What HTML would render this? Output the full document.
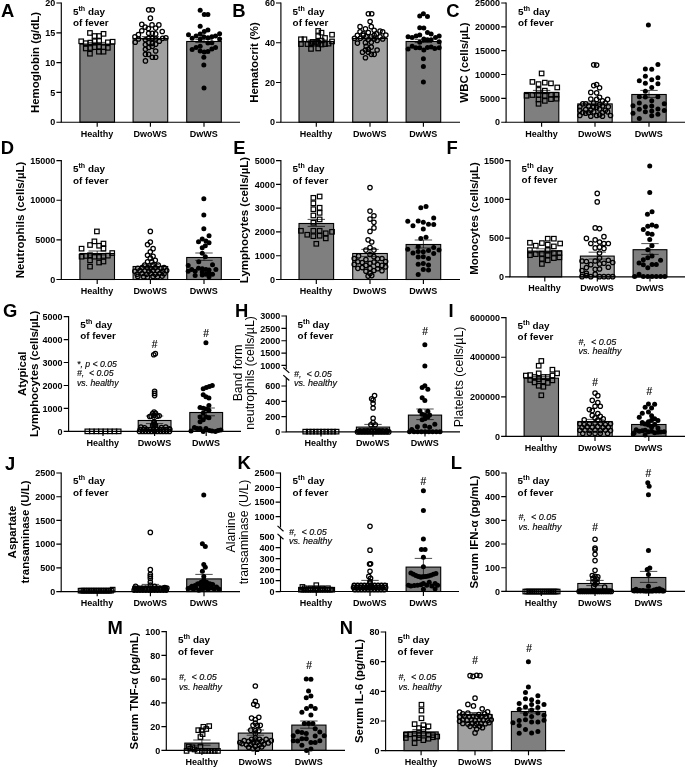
<!DOCTYPE html>
<html lang="en"><head><meta charset="utf-8"><title>Figure</title>
<style>html,body{margin:0;padding:0;background:#fff}svg{display:block}text{font-family:'Liberation Sans', Arial, sans-serif;fill:#000}</style>
</head><body>
<svg width="685" height="767" viewBox="0 0 685 767">
<rect width="685" height="767" fill="#fff"/>
<g id="panel-A">
<rect x="79.9" y="44.1" width="34.6" height="78.1" fill="#7f7f7f" stroke="#000" stroke-width="1.1"/>
<rect x="133.1" y="38.5" width="34.6" height="83.7" fill="#a1a1a1" stroke="#000" stroke-width="1.1"/>
<rect x="186.7" y="41.5" width="34.6" height="80.7" fill="#7f7f7f" stroke="#000" stroke-width="1.1"/>
<path d="M88.5 42.4H105.9M88.5 44.8H105.9M97.2 42.4V44.8" stroke="#000" stroke-width="0.7" fill="none"/>
<path d="M141.7 36.6H159.1M141.7 39.4H159.1M150.4 36.6V39.4" stroke="#000" stroke-width="0.7" fill="none"/>
<path d="M195.3 39.4H212.7M195.3 42.6H212.7M204 39.4V42.6" stroke="#000" stroke-width="0.7" fill="none"/>
<path d="M61.3 2.45V122.2" stroke="#000" stroke-width="1.15" fill="none"/>
<path d="M60.75 122.2H240" stroke="#000" stroke-width="1.15" fill="none"/>
<text x="55.3" y="125.4" font-size="9" text-anchor="end" font-weight="bold" font-style="normal">0</text>
<text x="55.3" y="95.6" font-size="9" text-anchor="end" font-weight="bold" font-style="normal">5</text>
<text x="55.3" y="65.8" font-size="9" text-anchor="end" font-weight="bold" font-style="normal">10</text>
<text x="55.3" y="36" font-size="9" text-anchor="end" font-weight="bold" font-style="normal">15</text>
<text x="55.3" y="6.2" font-size="9" text-anchor="end" font-weight="bold" font-style="normal">20</text>
<path d="M56.4 122.2H61.3M56.4 92.4H61.3M56.4 62.6H61.3M56.4 32.8H61.3M56.4 3H61.3M97.2 122.2V126.8M150.4 122.2V126.8M204 122.2V126.8" stroke="#000" stroke-width="1.15" fill="none"/>
<text x="97" y="136.7" font-size="9" text-anchor="middle" font-weight="bold" font-style="normal">Healthy</text>
<text x="150.2" y="136.7" font-size="9" text-anchor="middle" font-weight="bold" font-style="normal">DwoWS</text>
<text x="203.8" y="136.7" font-size="9" text-anchor="middle" font-weight="bold" font-style="normal">DwWS</text>
<text transform="translate(38.6 62.5) rotate(-90)" font-size="11.45" text-anchor="middle" font-weight="bold">Hemoglobin (g/dL)</text>
<text x="1" y="17" font-size="18.4" text-anchor="start" font-weight="bold" font-style="normal">A</text>
<text x="73" y="15" font-size="9.9" font-weight="bold">5<tspan font-size="7.1" dy="-4.1">th</tspan><tspan dy="4.1"> day</tspan></text>
<text x="73" y="26.1" font-size="9.9" text-anchor="start" font-weight="bold" font-style="normal">of fever</text>
<rect x="87.71" y="30.71" width="4.5" height="4.5" fill="none" stroke="#000" stroke-width="1.2"/>
<rect x="101.29" y="31.59" width="4.5" height="4.5" fill="none" stroke="#000" stroke-width="1.2"/>
<rect x="92.27" y="33.77" width="4.5" height="4.5" fill="none" stroke="#000" stroke-width="1.2"/>
<rect x="96.91" y="33.77" width="4.5" height="4.5" fill="none" stroke="#000" stroke-width="1.2"/>
<rect x="78.96" y="39.03" width="4.5" height="4.5" fill="none" stroke="#000" stroke-width="1.2"/>
<rect x="110.39" y="39.47" width="4.5" height="4.5" fill="none" stroke="#000" stroke-width="1.2"/>
<rect x="92.27" y="39.03" width="4.5" height="4.5" fill="none" stroke="#000" stroke-width="1.2"/>
<rect x="96.91" y="38.77" width="4.5" height="4.5" fill="none" stroke="#000" stroke-width="1.2"/>
<rect x="105.58" y="40.08" width="4.5" height="4.5" fill="none" stroke="#000" stroke-width="1.2"/>
<rect x="88.07" y="40.34" width="4.5" height="4.5" fill="none" stroke="#000" stroke-width="1.2"/>
<rect x="83.51" y="40.95" width="4.5" height="4.5" fill="none" stroke="#000" stroke-width="1.2"/>
<rect x="83.51" y="46.21" width="4.5" height="4.5" fill="none" stroke="#000" stroke-width="1.2"/>
<rect x="88.07" y="45.77" width="4.5" height="4.5" fill="none" stroke="#000" stroke-width="1.2"/>
<rect x="92.27" y="44.9" width="4.5" height="4.5" fill="none" stroke="#000" stroke-width="1.2"/>
<rect x="96.91" y="44.46" width="4.5" height="4.5" fill="none" stroke="#000" stroke-width="1.2"/>
<rect x="101.29" y="44.9" width="4.5" height="4.5" fill="none" stroke="#000" stroke-width="1.2"/>
<rect x="105.58" y="45.6" width="4.5" height="4.5" fill="none" stroke="#000" stroke-width="1.2"/>
<rect x="87.71" y="51.46" width="4.5" height="4.5" fill="none" stroke="#000" stroke-width="1.2"/>
<rect x="96.65" y="49.45" width="4.5" height="4.5" fill="none" stroke="#000" stroke-width="1.2"/>
<rect x="101.29" y="49.45" width="4.5" height="4.5" fill="none" stroke="#000" stroke-width="1.2"/>
<circle cx="148.65" cy="9.84" r="2.2" fill="none" stroke="#000" stroke-width="1.25"/>
<circle cx="152.3" cy="9.84" r="2.2" fill="none" stroke="#000" stroke-width="1.25"/>
<circle cx="150.4" cy="18.16" r="2.2" fill="none" stroke="#000" stroke-width="1.25"/>
<circle cx="141.79" cy="24.44" r="2.2" fill="none" stroke="#000" stroke-width="1.25"/>
<circle cx="152.01" cy="24.88" r="2.2" fill="none" stroke="#000" stroke-width="1.25"/>
<circle cx="158.87" cy="24.88" r="2.2" fill="none" stroke="#000" stroke-width="1.25"/>
<circle cx="145.15" cy="27.07" r="2.2" fill="none" stroke="#000" stroke-width="1.25"/>
<circle cx="148.36" cy="28.53" r="2.2" fill="none" stroke="#000" stroke-width="1.25"/>
<circle cx="155.66" cy="28.09" r="2.2" fill="none" stroke="#000" stroke-width="1.25"/>
<circle cx="141.79" cy="30.72" r="2.2" fill="none" stroke="#000" stroke-width="1.25"/>
<circle cx="162.23" cy="31.45" r="2.2" fill="none" stroke="#000" stroke-width="1.25"/>
<circle cx="148.65" cy="33.2" r="2.2" fill="none" stroke="#000" stroke-width="1.25"/>
<circle cx="152.3" cy="33.2" r="2.2" fill="none" stroke="#000" stroke-width="1.25"/>
<circle cx="155.66" cy="33.93" r="2.2" fill="none" stroke="#000" stroke-width="1.25"/>
<circle cx="138.43" cy="34.66" r="2.2" fill="none" stroke="#000" stroke-width="1.25"/>
<circle cx="134.93" cy="36.85" r="2.2" fill="none" stroke="#000" stroke-width="1.25"/>
<circle cx="165.88" cy="37.87" r="2.2" fill="none" stroke="#000" stroke-width="1.25"/>
<circle cx="135.22" cy="42.25" r="2.2" fill="none" stroke="#000" stroke-width="1.25"/>
<circle cx="138.43" cy="39.04" r="2.2" fill="none" stroke="#000" stroke-width="1.25"/>
<circle cx="145.44" cy="39.77" r="2.2" fill="none" stroke="#000" stroke-width="1.25"/>
<circle cx="148.65" cy="38.31" r="2.2" fill="none" stroke="#000" stroke-width="1.25"/>
<circle cx="152.3" cy="38.31" r="2.2" fill="none" stroke="#000" stroke-width="1.25"/>
<circle cx="155.66" cy="39.04" r="2.2" fill="none" stroke="#000" stroke-width="1.25"/>
<circle cx="159.31" cy="41.23" r="2.2" fill="none" stroke="#000" stroke-width="1.25"/>
<circle cx="162.66" cy="38.31" r="2.2" fill="none" stroke="#000" stroke-width="1.25"/>
<circle cx="145.44" cy="44.58" r="2.2" fill="none" stroke="#000" stroke-width="1.25"/>
<circle cx="148.65" cy="42.69" r="2.2" fill="none" stroke="#000" stroke-width="1.25"/>
<circle cx="152.3" cy="43.42" r="2.2" fill="none" stroke="#000" stroke-width="1.25"/>
<circle cx="155.66" cy="44.15" r="2.2" fill="none" stroke="#000" stroke-width="1.25"/>
<circle cx="145.44" cy="49.26" r="2.2" fill="none" stroke="#000" stroke-width="1.25"/>
<circle cx="148.65" cy="47.5" r="2.2" fill="none" stroke="#000" stroke-width="1.25"/>
<circle cx="152.3" cy="46.34" r="2.2" fill="none" stroke="#000" stroke-width="1.25"/>
<circle cx="145.44" cy="54.36" r="2.2" fill="none" stroke="#000" stroke-width="1.25"/>
<circle cx="148.65" cy="54.36" r="2.2" fill="none" stroke="#000" stroke-width="1.25"/>
<circle cx="155.66" cy="51.01" r="2.2" fill="none" stroke="#000" stroke-width="1.25"/>
<circle cx="152.3" cy="57.28" r="2.2" fill="none" stroke="#000" stroke-width="1.25"/>
<circle cx="155.66" cy="57.28" r="2.2" fill="none" stroke="#000" stroke-width="1.25"/>
<circle cx="145.44" cy="60.93" r="2.2" fill="none" stroke="#000" stroke-width="1.25"/>
<circle cx="200.18" cy="10.13" r="2.5" fill="#000"/>
<circle cx="204.27" cy="14.51" r="2.5" fill="#000"/>
<circle cx="207.92" cy="14.51" r="2.5" fill="#000"/>
<circle cx="200.18" cy="26.19" r="2.5" fill="#000"/>
<circle cx="207.92" cy="29.99" r="2.5" fill="#000"/>
<circle cx="204.27" cy="31.45" r="2.5" fill="#000"/>
<circle cx="188.5" cy="34.66" r="2.5" fill="#000"/>
<circle cx="200.18" cy="33.93" r="2.5" fill="#000"/>
<circle cx="219.6" cy="33.64" r="2.5" fill="#000"/>
<circle cx="196.09" cy="36.12" r="2.5" fill="#000"/>
<circle cx="192.15" cy="38.31" r="2.5" fill="#000"/>
<circle cx="203.83" cy="36.85" r="2.5" fill="#000"/>
<circle cx="207.92" cy="37.87" r="2.5" fill="#000"/>
<circle cx="211.86" cy="36.85" r="2.5" fill="#000"/>
<circle cx="215.51" cy="36.12" r="2.5" fill="#000"/>
<circle cx="219.6" cy="39.04" r="2.5" fill="#000"/>
<circle cx="200.18" cy="39.04" r="2.5" fill="#000"/>
<circle cx="207.92" cy="43.12" r="2.5" fill="#000"/>
<circle cx="211.86" cy="42.69" r="2.5" fill="#000"/>
<circle cx="200.18" cy="46.34" r="2.5" fill="#000"/>
<circle cx="196.09" cy="47.5" r="2.5" fill="#000"/>
<circle cx="192.15" cy="49.55" r="2.5" fill="#000"/>
<circle cx="215.51" cy="47.5" r="2.5" fill="#000"/>
<circle cx="211.86" cy="48.96" r="2.5" fill="#000"/>
<circle cx="200.18" cy="51.01" r="2.5" fill="#000"/>
<circle cx="204.27" cy="51.88" r="2.5" fill="#000"/>
<circle cx="207.92" cy="51.45" r="2.5" fill="#000"/>
<circle cx="203.83" cy="57.28" r="2.5" fill="#000"/>
<circle cx="203.83" cy="65.02" r="2.5" fill="#000"/>
<circle cx="204" cy="88" r="2.5" fill="#000"/>
</g>
<g id="panel-B">
<rect x="299" y="41.5" width="34.6" height="80.7" fill="#7f7f7f" stroke="#000" stroke-width="1.1"/>
<rect x="352.7" y="38.5" width="34.6" height="83.7" fill="#a1a1a1" stroke="#000" stroke-width="1.1"/>
<rect x="406.1" y="41.5" width="34.6" height="80.7" fill="#7f7f7f" stroke="#000" stroke-width="1.1"/>
<path d="M307.6 40H325M307.6 42H325M316.3 40V42" stroke="#000" stroke-width="0.7" fill="none"/>
<path d="M361.3 37H378.7M361.3 39H378.7M370 37V39" stroke="#000" stroke-width="0.7" fill="none"/>
<path d="M414.7 39.4H432.1M414.7 42.6H432.1M423.4 39.4V42.6" stroke="#000" stroke-width="0.7" fill="none"/>
<path d="M280.9 2.45V122.2" stroke="#000" stroke-width="1.15" fill="none"/>
<path d="M280.35 122.2H460" stroke="#000" stroke-width="1.15" fill="none"/>
<text x="274.9" y="125.4" font-size="9" text-anchor="end" font-weight="bold" font-style="normal">0</text>
<text x="274.9" y="85.67" font-size="9" text-anchor="end" font-weight="bold" font-style="normal">20</text>
<text x="274.9" y="45.93" font-size="9" text-anchor="end" font-weight="bold" font-style="normal">40</text>
<text x="274.9" y="6.2" font-size="9" text-anchor="end" font-weight="bold" font-style="normal">60</text>
<path d="M276 122.2H280.9M276 82.47H280.9M276 42.73H280.9M276 3H280.9M316.3 122.2V126.8M370 122.2V126.8M423.4 122.2V126.8" stroke="#000" stroke-width="1.15" fill="none"/>
<text x="316.1" y="136.7" font-size="9" text-anchor="middle" font-weight="bold" font-style="normal">Healthy</text>
<text x="369.8" y="136.7" font-size="9" text-anchor="middle" font-weight="bold" font-style="normal">DwoWS</text>
<text x="423.2" y="136.7" font-size="9" text-anchor="middle" font-weight="bold" font-style="normal">DwWS</text>
<text transform="translate(258.3 62.5) rotate(-90)" font-size="11.45" text-anchor="middle" font-weight="bold">Hematocrit (%)</text>
<text x="232.2" y="17" font-size="18.4" text-anchor="start" font-weight="bold" font-style="normal">B</text>
<text x="292.6" y="15" font-size="9.9" font-weight="bold">5<tspan font-size="7.1" dy="-4.1">th</tspan><tspan dy="4.1"> day</tspan></text>
<text x="292.6" y="26.1" font-size="9.9" text-anchor="start" font-weight="bold" font-style="normal">of fever</text>
<rect x="315.95" y="28.7" width="4.5" height="4.5" fill="none" stroke="#000" stroke-width="1.2"/>
<rect x="319.27" y="30.45" width="4.5" height="4.5" fill="none" stroke="#000" stroke-width="1.2"/>
<rect x="329.78" y="32.46" width="4.5" height="4.5" fill="none" stroke="#000" stroke-width="1.2"/>
<rect x="315.95" y="33.95" width="4.5" height="4.5" fill="none" stroke="#000" stroke-width="1.2"/>
<rect x="322.78" y="35.7" width="4.5" height="4.5" fill="none" stroke="#000" stroke-width="1.2"/>
<rect x="298.7" y="37.01" width="4.5" height="4.5" fill="none" stroke="#000" stroke-width="1.2"/>
<rect x="302.2" y="37.01" width="4.5" height="4.5" fill="none" stroke="#000" stroke-width="1.2"/>
<rect x="329.78" y="39.2" width="4.5" height="4.5" fill="none" stroke="#000" stroke-width="1.2"/>
<rect x="319.27" y="38.33" width="4.5" height="4.5" fill="none" stroke="#000" stroke-width="1.2"/>
<rect x="298.7" y="41.83" width="4.5" height="4.5" fill="none" stroke="#000" stroke-width="1.2"/>
<rect x="305.26" y="41.83" width="4.5" height="4.5" fill="none" stroke="#000" stroke-width="1.2"/>
<rect x="308.77" y="40.95" width="4.5" height="4.5" fill="none" stroke="#000" stroke-width="1.2"/>
<rect x="312.27" y="41.39" width="4.5" height="4.5" fill="none" stroke="#000" stroke-width="1.2"/>
<rect x="315.95" y="40.69" width="4.5" height="4.5" fill="none" stroke="#000" stroke-width="1.2"/>
<rect x="319.27" y="42.27" width="4.5" height="4.5" fill="none" stroke="#000" stroke-width="1.2"/>
<rect x="322.78" y="41.83" width="4.5" height="4.5" fill="none" stroke="#000" stroke-width="1.2"/>
<rect x="326.28" y="41.39" width="4.5" height="4.5" fill="none" stroke="#000" stroke-width="1.2"/>
<rect x="308.77" y="46.65" width="4.5" height="4.5" fill="none" stroke="#000" stroke-width="1.2"/>
<rect x="315.95" y="46.21" width="4.5" height="4.5" fill="none" stroke="#000" stroke-width="1.2"/>
<rect x="310.52" y="39.64" width="4.5" height="4.5" fill="none" stroke="#000" stroke-width="1.2"/>
<rect x="314.02" y="39.64" width="4.5" height="4.5" fill="none" stroke="#000" stroke-width="1.2"/>
<circle cx="368.36" cy="13.78" r="2.2" fill="none" stroke="#000" stroke-width="1.25"/>
<circle cx="371.72" cy="13.78" r="2.2" fill="none" stroke="#000" stroke-width="1.25"/>
<circle cx="370.11" cy="21.52" r="2.2" fill="none" stroke="#000" stroke-width="1.25"/>
<circle cx="360.04" cy="26.63" r="2.2" fill="none" stroke="#000" stroke-width="1.25"/>
<circle cx="371.28" cy="26.63" r="2.2" fill="none" stroke="#000" stroke-width="1.25"/>
<circle cx="365.44" cy="28.82" r="2.2" fill="none" stroke="#000" stroke-width="1.25"/>
<circle cx="374.2" cy="30.28" r="2.2" fill="none" stroke="#000" stroke-width="1.25"/>
<circle cx="380.04" cy="31.01" r="2.2" fill="none" stroke="#000" stroke-width="1.25"/>
<circle cx="382.66" cy="31.74" r="2.2" fill="none" stroke="#000" stroke-width="1.25"/>
<circle cx="360.04" cy="31.74" r="2.2" fill="none" stroke="#000" stroke-width="1.25"/>
<circle cx="368.36" cy="32.47" r="2.2" fill="none" stroke="#000" stroke-width="1.25"/>
<circle cx="385.88" cy="35.09" r="2.2" fill="none" stroke="#000" stroke-width="1.25"/>
<circle cx="357.41" cy="35.39" r="2.2" fill="none" stroke="#000" stroke-width="1.25"/>
<circle cx="363.25" cy="35.39" r="2.2" fill="none" stroke="#000" stroke-width="1.25"/>
<circle cx="376.39" cy="33.93" r="2.2" fill="none" stroke="#000" stroke-width="1.25"/>
<circle cx="354.49" cy="38.31" r="2.2" fill="none" stroke="#000" stroke-width="1.25"/>
<circle cx="360.33" cy="38.31" r="2.2" fill="none" stroke="#000" stroke-width="1.25"/>
<circle cx="366.17" cy="36.85" r="2.2" fill="none" stroke="#000" stroke-width="1.25"/>
<circle cx="371.28" cy="36.85" r="2.2" fill="none" stroke="#000" stroke-width="1.25"/>
<circle cx="380.04" cy="36.85" r="2.2" fill="none" stroke="#000" stroke-width="1.25"/>
<circle cx="382.66" cy="39.04" r="2.2" fill="none" stroke="#000" stroke-width="1.25"/>
<circle cx="368.36" cy="39.77" r="2.2" fill="none" stroke="#000" stroke-width="1.25"/>
<circle cx="374.2" cy="39.04" r="2.2" fill="none" stroke="#000" stroke-width="1.25"/>
<circle cx="377.12" cy="40.5" r="2.2" fill="none" stroke="#000" stroke-width="1.25"/>
<circle cx="357.41" cy="43.12" r="2.2" fill="none" stroke="#000" stroke-width="1.25"/>
<circle cx="365.44" cy="42.69" r="2.2" fill="none" stroke="#000" stroke-width="1.25"/>
<circle cx="371.28" cy="42.25" r="2.2" fill="none" stroke="#000" stroke-width="1.25"/>
<circle cx="366.17" cy="46.34" r="2.2" fill="none" stroke="#000" stroke-width="1.25"/>
<circle cx="371.28" cy="47.07" r="2.2" fill="none" stroke="#000" stroke-width="1.25"/>
<circle cx="368.36" cy="49.26" r="2.2" fill="none" stroke="#000" stroke-width="1.25"/>
<circle cx="365.44" cy="49.99" r="2.2" fill="none" stroke="#000" stroke-width="1.25"/>
<circle cx="377.12" cy="49.99" r="2.2" fill="none" stroke="#000" stroke-width="1.25"/>
<circle cx="362.52" cy="52.18" r="2.2" fill="none" stroke="#000" stroke-width="1.25"/>
<circle cx="368.36" cy="52.18" r="2.2" fill="none" stroke="#000" stroke-width="1.25"/>
<circle cx="371.28" cy="54.36" r="2.2" fill="none" stroke="#000" stroke-width="1.25"/>
<circle cx="374.2" cy="54.36" r="2.2" fill="none" stroke="#000" stroke-width="1.25"/>
<circle cx="365.44" cy="57.72" r="2.2" fill="none" stroke="#000" stroke-width="1.25"/>
<circle cx="363.25" cy="33.93" r="2.2" fill="none" stroke="#000" stroke-width="1.25"/>
<circle cx="374.2" cy="35.39" r="2.2" fill="none" stroke="#000" stroke-width="1.25"/>
<circle cx="423.39" cy="13.78" r="2.5" fill="#000"/>
<circle cx="419.74" cy="15.97" r="2.5" fill="#000"/>
<circle cx="427.48" cy="16.41" r="2.5" fill="#000"/>
<circle cx="419.74" cy="27.65" r="2.5" fill="#000"/>
<circle cx="423.83" cy="28.09" r="2.5" fill="#000"/>
<circle cx="427.48" cy="32.47" r="2.5" fill="#000"/>
<circle cx="431.13" cy="33.93" r="2.5" fill="#000"/>
<circle cx="419.74" cy="34.95" r="2.5" fill="#000"/>
<circle cx="416.09" cy="36.12" r="2.5" fill="#000"/>
<circle cx="408.07" cy="36.85" r="2.5" fill="#000"/>
<circle cx="412.15" cy="37.58" r="2.5" fill="#000"/>
<circle cx="439.16" cy="36.12" r="2.5" fill="#000"/>
<circle cx="435.51" cy="37.58" r="2.5" fill="#000"/>
<circle cx="423.83" cy="39.04" r="2.5" fill="#000"/>
<circle cx="427.48" cy="39.77" r="2.5" fill="#000"/>
<circle cx="431.13" cy="39.77" r="2.5" fill="#000"/>
<circle cx="419.74" cy="42.25" r="2.5" fill="#000"/>
<circle cx="439.16" cy="41.66" r="2.5" fill="#000"/>
<circle cx="412.15" cy="46.34" r="2.5" fill="#000"/>
<circle cx="415.8" cy="47.8" r="2.5" fill="#000"/>
<circle cx="408.07" cy="48.96" r="2.5" fill="#000"/>
<circle cx="419.74" cy="47.8" r="2.5" fill="#000"/>
<circle cx="423.83" cy="49.99" r="2.5" fill="#000"/>
<circle cx="427.48" cy="47.5" r="2.5" fill="#000"/>
<circle cx="431.13" cy="47.07" r="2.5" fill="#000"/>
<circle cx="434.78" cy="48.53" r="2.5" fill="#000"/>
<circle cx="439.16" cy="47.8" r="2.5" fill="#000"/>
<circle cx="423.39" cy="58.74" r="2.5" fill="#000"/>
<circle cx="423.39" cy="66.48" r="2.5" fill="#000"/>
<circle cx="423.4" cy="82" r="2.5" fill="#000"/>
</g>
<g id="panel-C">
<rect x="524.4" y="92.5" width="34.4" height="29.7" fill="#7f7f7f" stroke="#000" stroke-width="1.1"/>
<rect x="577.8" y="103.9" width="34.4" height="18.3" fill="#a1a1a1" stroke="#000" stroke-width="1.1"/>
<rect x="631.8" y="94.5" width="34.4" height="27.7" fill="#7f7f7f" stroke="#000" stroke-width="1.1"/>
<path d="M532.9 90.4H550.3M532.9 93.6H550.3M541.6 90.4V93.6" stroke="#000" stroke-width="0.7" fill="none"/>
<path d="M586.3 102H603.7M586.3 104.8H603.7M595 102V104.8" stroke="#000" stroke-width="0.7" fill="none"/>
<path d="M640.3 90.4H657.7M640.3 97.6H657.7M649 90.4V97.6" stroke="#000" stroke-width="0.7" fill="none"/>
<path d="M506.1 2.45V122.2" stroke="#000" stroke-width="1.15" fill="none"/>
<path d="M505.55 122.2H685" stroke="#000" stroke-width="1.15" fill="none"/>
<text x="500.1" y="125.4" font-size="9" text-anchor="end" font-weight="bold" font-style="normal">0</text>
<text x="500.1" y="101.56" font-size="9" text-anchor="end" font-weight="bold" font-style="normal">5000</text>
<text x="500.1" y="77.72" font-size="9" text-anchor="end" font-weight="bold" font-style="normal">10000</text>
<text x="500.1" y="53.88" font-size="9" text-anchor="end" font-weight="bold" font-style="normal">15000</text>
<text x="500.1" y="30.04" font-size="9" text-anchor="end" font-weight="bold" font-style="normal">20000</text>
<text x="500.1" y="6.2" font-size="9" text-anchor="end" font-weight="bold" font-style="normal">25000</text>
<path d="M501.2 122.2H506.1M501.2 98.36H506.1M501.2 74.52H506.1M501.2 50.68H506.1M501.2 26.84H506.1M501.2 3H506.1M541.6 122.2V126.8M595 122.2V126.8M649 122.2V126.8" stroke="#000" stroke-width="1.15" fill="none"/>
<text x="541.4" y="136.7" font-size="9" text-anchor="middle" font-weight="bold" font-style="normal">Healthy</text>
<text x="594.8" y="136.7" font-size="9" text-anchor="middle" font-weight="bold" font-style="normal">DwoWS</text>
<text x="648.8" y="136.7" font-size="9" text-anchor="middle" font-weight="bold" font-style="normal">DwWS</text>
<text transform="translate(468.4 62.5) rotate(-90)" font-size="11.45" text-anchor="middle" font-weight="bold">WBC (cells/µL)</text>
<text x="446.2" y="17" font-size="18.4" text-anchor="start" font-weight="bold" font-style="normal">C</text>
<text x="518" y="15" font-size="9.9" font-weight="bold">5<tspan font-size="7.1" dy="-4.1">th</tspan><tspan dy="4.1"> day</tspan></text>
<text x="518" y="26.1" font-size="9.9" text-anchor="start" font-weight="bold" font-style="normal">of fever</text>
<rect x="539.36" y="71.18" width="4.5" height="4.5" fill="none" stroke="#000" stroke-width="1.2"/>
<rect x="530.16" y="79.65" width="4.5" height="4.5" fill="none" stroke="#000" stroke-width="1.2"/>
<rect x="542.57" y="80.38" width="4.5" height="4.5" fill="none" stroke="#000" stroke-width="1.2"/>
<rect x="548.7" y="81.11" width="4.5" height="4.5" fill="none" stroke="#000" stroke-width="1.2"/>
<rect x="536.29" y="81.84" width="4.5" height="4.5" fill="none" stroke="#000" stroke-width="1.2"/>
<rect x="554.98" y="85.2" width="4.5" height="4.5" fill="none" stroke="#000" stroke-width="1.2"/>
<rect x="536.29" y="87.68" width="4.5" height="4.5" fill="none" stroke="#000" stroke-width="1.2"/>
<rect x="542.57" y="88.41" width="4.5" height="4.5" fill="none" stroke="#000" stroke-width="1.2"/>
<rect x="524.32" y="93.52" width="4.5" height="4.5" fill="none" stroke="#000" stroke-width="1.2"/>
<rect x="530.16" y="92.79" width="4.5" height="4.5" fill="none" stroke="#000" stroke-width="1.2"/>
<rect x="536.29" y="92.79" width="4.5" height="4.5" fill="none" stroke="#000" stroke-width="1.2"/>
<rect x="542.57" y="93.52" width="4.5" height="4.5" fill="none" stroke="#000" stroke-width="1.2"/>
<rect x="548.7" y="92.49" width="4.5" height="4.5" fill="none" stroke="#000" stroke-width="1.2"/>
<rect x="554.25" y="92.49" width="4.5" height="4.5" fill="none" stroke="#000" stroke-width="1.2"/>
<rect x="536.29" y="97.17" width="4.5" height="4.5" fill="none" stroke="#000" stroke-width="1.2"/>
<rect x="542.57" y="98.63" width="4.5" height="4.5" fill="none" stroke="#000" stroke-width="1.2"/>
<rect x="548.7" y="96.87" width="4.5" height="4.5" fill="none" stroke="#000" stroke-width="1.2"/>
<rect x="554.25" y="96.44" width="4.5" height="4.5" fill="none" stroke="#000" stroke-width="1.2"/>
<rect x="536.29" y="101.55" width="4.5" height="4.5" fill="none" stroke="#000" stroke-width="1.2"/>
<circle cx="593.72" cy="64.82" r="2.2" fill="none" stroke="#000" stroke-width="1.25"/>
<circle cx="596.64" cy="65.11" r="2.2" fill="none" stroke="#000" stroke-width="1.25"/>
<circle cx="593.72" cy="85.55" r="2.2" fill="none" stroke="#000" stroke-width="1.25"/>
<circle cx="596.64" cy="84.53" r="2.2" fill="none" stroke="#000" stroke-width="1.25"/>
<circle cx="599.56" cy="87.74" r="2.2" fill="none" stroke="#000" stroke-width="1.25"/>
<circle cx="590.8" cy="92.41" r="2.2" fill="none" stroke="#000" stroke-width="1.25"/>
<circle cx="596.64" cy="92.85" r="2.2" fill="none" stroke="#000" stroke-width="1.25"/>
<circle cx="599.56" cy="97.23" r="2.2" fill="none" stroke="#000" stroke-width="1.25"/>
<circle cx="590.8" cy="99.12" r="2.2" fill="none" stroke="#000" stroke-width="1.25"/>
<circle cx="596.64" cy="99.42" r="2.2" fill="none" stroke="#000" stroke-width="1.25"/>
<circle cx="607.59" cy="99.42" r="2.2" fill="none" stroke="#000" stroke-width="1.25"/>
<circle cx="602.48" cy="100.88" r="2.2" fill="none" stroke="#000" stroke-width="1.25"/>
<circle cx="582.77" cy="103.8" r="2.2" fill="none" stroke="#000" stroke-width="1.25"/>
<circle cx="585.69" cy="103.8" r="2.2" fill="none" stroke="#000" stroke-width="1.25"/>
<circle cx="593.72" cy="103.07" r="2.2" fill="none" stroke="#000" stroke-width="1.25"/>
<circle cx="605.4" cy="103.07" r="2.2" fill="none" stroke="#000" stroke-width="1.25"/>
<circle cx="599.56" cy="104.53" r="2.2" fill="none" stroke="#000" stroke-width="1.25"/>
<circle cx="579.85" cy="106.72" r="2.2" fill="none" stroke="#000" stroke-width="1.25"/>
<circle cx="588.61" cy="105.99" r="2.2" fill="none" stroke="#000" stroke-width="1.25"/>
<circle cx="593.72" cy="106.72" r="2.2" fill="none" stroke="#000" stroke-width="1.25"/>
<circle cx="596.64" cy="107.45" r="2.2" fill="none" stroke="#000" stroke-width="1.25"/>
<circle cx="602.48" cy="105.99" r="2.2" fill="none" stroke="#000" stroke-width="1.25"/>
<circle cx="608.32" cy="106.72" r="2.2" fill="none" stroke="#000" stroke-width="1.25"/>
<circle cx="579.85" cy="110.36" r="2.2" fill="none" stroke="#000" stroke-width="1.25"/>
<circle cx="585.69" cy="109.64" r="2.2" fill="none" stroke="#000" stroke-width="1.25"/>
<circle cx="590.8" cy="110.36" r="2.2" fill="none" stroke="#000" stroke-width="1.25"/>
<circle cx="599.56" cy="108.91" r="2.2" fill="none" stroke="#000" stroke-width="1.25"/>
<circle cx="605.4" cy="110.36" r="2.2" fill="none" stroke="#000" stroke-width="1.25"/>
<circle cx="582.77" cy="112.55" r="2.2" fill="none" stroke="#000" stroke-width="1.25"/>
<circle cx="588.61" cy="112.55" r="2.2" fill="none" stroke="#000" stroke-width="1.25"/>
<circle cx="593.72" cy="111.82" r="2.2" fill="none" stroke="#000" stroke-width="1.25"/>
<circle cx="602.48" cy="112.55" r="2.2" fill="none" stroke="#000" stroke-width="1.25"/>
<circle cx="607.59" cy="111.82" r="2.2" fill="none" stroke="#000" stroke-width="1.25"/>
<circle cx="579.85" cy="115.47" r="2.2" fill="none" stroke="#000" stroke-width="1.25"/>
<circle cx="590.8" cy="116.2" r="2.2" fill="none" stroke="#000" stroke-width="1.25"/>
<circle cx="596.64" cy="115.47" r="2.2" fill="none" stroke="#000" stroke-width="1.25"/>
<circle cx="599.56" cy="114.74" r="2.2" fill="none" stroke="#000" stroke-width="1.25"/>
<circle cx="602.48" cy="116.2" r="2.2" fill="none" stroke="#000" stroke-width="1.25"/>
<circle cx="610.51" cy="115.47" r="2.2" fill="none" stroke="#000" stroke-width="1.25"/>
<circle cx="585.69" cy="113.28" r="2.2" fill="none" stroke="#000" stroke-width="1.25"/>
<circle cx="648.4" cy="25.12" r="2.5" fill="#000"/>
<circle cx="657.92" cy="64.45" r="2.5" fill="#000"/>
<circle cx="645.37" cy="68.98" r="2.5" fill="#000"/>
<circle cx="651.72" cy="69.29" r="2.5" fill="#000"/>
<circle cx="645.37" cy="76.24" r="2.5" fill="#000"/>
<circle cx="657.92" cy="77.76" r="2.5" fill="#000"/>
<circle cx="639.32" cy="80.63" r="2.5" fill="#000"/>
<circle cx="651.72" cy="79.87" r="2.5" fill="#000"/>
<circle cx="645.37" cy="83.35" r="2.5" fill="#000"/>
<circle cx="657.92" cy="83.81" r="2.5" fill="#000"/>
<circle cx="651.72" cy="87.59" r="2.5" fill="#000"/>
<circle cx="645.37" cy="91.22" r="2.5" fill="#000"/>
<circle cx="639.32" cy="96.66" r="2.5" fill="#000"/>
<circle cx="645.37" cy="96.96" r="2.5" fill="#000"/>
<circle cx="657.92" cy="96.66" r="2.5" fill="#000"/>
<circle cx="651.72" cy="100.74" r="2.5" fill="#000"/>
<circle cx="639.32" cy="103.01" r="2.5" fill="#000"/>
<circle cx="664.28" cy="103.77" r="2.5" fill="#000"/>
<circle cx="632.97" cy="105.74" r="2.5" fill="#000"/>
<circle cx="645.37" cy="106.79" r="2.5" fill="#000"/>
<circle cx="651.72" cy="106.04" r="2.5" fill="#000"/>
<circle cx="639.32" cy="109.36" r="2.5" fill="#000"/>
<circle cx="657.92" cy="109.06" r="2.5" fill="#000"/>
<circle cx="664.28" cy="110.57" r="2.5" fill="#000"/>
<circle cx="645.37" cy="111.63" r="2.5" fill="#000"/>
<circle cx="651.72" cy="111.03" r="2.5" fill="#000"/>
<circle cx="632.97" cy="113.3" r="2.5" fill="#000"/>
<circle cx="657.92" cy="114.36" r="2.5" fill="#000"/>
<circle cx="651.72" cy="115.87" r="2.5" fill="#000"/>
<circle cx="639.32" cy="118.59" r="2.5" fill="#000"/>
</g>
<g id="panel-D">
<rect x="79.9" y="253.5" width="34.6" height="26" fill="#7f7f7f" stroke="#000" stroke-width="1.1"/>
<rect x="133.1" y="266.5" width="34.6" height="13" fill="#a1a1a1" stroke="#000" stroke-width="1.1"/>
<rect x="186.7" y="257.5" width="34.6" height="22" fill="#7f7f7f" stroke="#000" stroke-width="1.1"/>
<path d="M88.5 251H105.9M88.5 255H105.9M97.2 251V255" stroke="#000" stroke-width="0.7" fill="none"/>
<path d="M141.7 264.6H159.1M141.7 267.4H159.1M150.4 264.6V267.4" stroke="#000" stroke-width="0.7" fill="none"/>
<path d="M195.3 253H212.7M195.3 260.4H212.7M204 253V260.4" stroke="#000" stroke-width="0.7" fill="none"/>
<path d="M61.3 160.05V279.5" stroke="#000" stroke-width="1.15" fill="none"/>
<path d="M60.75 279.5H240" stroke="#000" stroke-width="1.15" fill="none"/>
<text x="55.3" y="282.7" font-size="9" text-anchor="end" font-weight="bold" font-style="normal">0</text>
<text x="55.3" y="243.07" font-size="9" text-anchor="end" font-weight="bold" font-style="normal">5000</text>
<text x="55.3" y="203.43" font-size="9" text-anchor="end" font-weight="bold" font-style="normal">10000</text>
<text x="55.3" y="163.8" font-size="9" text-anchor="end" font-weight="bold" font-style="normal">15000</text>
<path d="M56.4 279.5H61.3M56.4 239.87H61.3M56.4 200.23H61.3M56.4 160.6H61.3M97.2 279.5V284.1M150.4 279.5V284.1M204 279.5V284.1" stroke="#000" stroke-width="1.15" fill="none"/>
<text x="97" y="294" font-size="9" text-anchor="middle" font-weight="bold" font-style="normal">Healthy</text>
<text x="150.2" y="294" font-size="9" text-anchor="middle" font-weight="bold" font-style="normal">DwoWS</text>
<text x="203.8" y="294" font-size="9" text-anchor="middle" font-weight="bold" font-style="normal">DwWS</text>
<text transform="translate(23.8 220) rotate(-90)" font-size="11.45" text-anchor="middle" font-weight="bold">Neutrophils (cells/µL)</text>
<text x="0.8" y="154.2" font-size="18.4" text-anchor="start" font-weight="bold" font-style="normal">D</text>
<text x="73" y="172.4" font-size="9.9" font-weight="bold">5<tspan font-size="7.1" dy="-4.1">th</tspan><tspan dy="4.1"> day</tspan></text>
<text x="73" y="183.5" font-size="9.9" text-anchor="start" font-weight="bold" font-style="normal">of fever</text>
<rect x="94.65" y="229.18" width="4.5" height="4.5" fill="none" stroke="#000" stroke-width="1.2"/>
<rect x="92.17" y="239.11" width="4.5" height="4.5" fill="none" stroke="#000" stroke-width="1.2"/>
<rect x="87.79" y="242.76" width="4.5" height="4.5" fill="none" stroke="#000" stroke-width="1.2"/>
<rect x="101.22" y="241.3" width="4.5" height="4.5" fill="none" stroke="#000" stroke-width="1.2"/>
<rect x="96.84" y="243.49" width="4.5" height="4.5" fill="none" stroke="#000" stroke-width="1.2"/>
<rect x="79.32" y="246.41" width="4.5" height="4.5" fill="none" stroke="#000" stroke-width="1.2"/>
<rect x="101.22" y="246.41" width="4.5" height="4.5" fill="none" stroke="#000" stroke-width="1.2"/>
<rect x="109.98" y="250.79" width="4.5" height="4.5" fill="none" stroke="#000" stroke-width="1.2"/>
<rect x="79.32" y="254.44" width="4.5" height="4.5" fill="none" stroke="#000" stroke-width="1.2"/>
<rect x="83.7" y="253.71" width="4.5" height="4.5" fill="none" stroke="#000" stroke-width="1.2"/>
<rect x="87.79" y="252.98" width="4.5" height="4.5" fill="none" stroke="#000" stroke-width="1.2"/>
<rect x="92.17" y="254.44" width="4.5" height="4.5" fill="none" stroke="#000" stroke-width="1.2"/>
<rect x="96.84" y="254.44" width="4.5" height="4.5" fill="none" stroke="#000" stroke-width="1.2"/>
<rect x="101.22" y="253.71" width="4.5" height="4.5" fill="none" stroke="#000" stroke-width="1.2"/>
<rect x="105.6" y="253.41" width="4.5" height="4.5" fill="none" stroke="#000" stroke-width="1.2"/>
<rect x="87.79" y="258.09" width="4.5" height="4.5" fill="none" stroke="#000" stroke-width="1.2"/>
<rect x="96.84" y="260.28" width="4.5" height="4.5" fill="none" stroke="#000" stroke-width="1.2"/>
<rect x="101.22" y="259.25" width="4.5" height="4.5" fill="none" stroke="#000" stroke-width="1.2"/>
<rect x="87.79" y="264.36" width="4.5" height="4.5" fill="none" stroke="#000" stroke-width="1.2"/>
<circle cx="150.33" cy="231.43" r="2.2" fill="none" stroke="#000" stroke-width="1.25"/>
<circle cx="150.33" cy="242.09" r="2.2" fill="none" stroke="#000" stroke-width="1.25"/>
<circle cx="147.55" cy="244.57" r="2.2" fill="none" stroke="#000" stroke-width="1.25"/>
<circle cx="153.1" cy="248.66" r="2.2" fill="none" stroke="#000" stroke-width="1.25"/>
<circle cx="150.33" cy="251.87" r="2.2" fill="none" stroke="#000" stroke-width="1.25"/>
<circle cx="147.55" cy="255.23" r="2.2" fill="none" stroke="#000" stroke-width="1.25"/>
<circle cx="153.1" cy="256.25" r="2.2" fill="none" stroke="#000" stroke-width="1.25"/>
<circle cx="150.33" cy="258.15" r="2.2" fill="none" stroke="#000" stroke-width="1.25"/>
<circle cx="155.29" cy="260.34" r="2.2" fill="none" stroke="#000" stroke-width="1.25"/>
<circle cx="147.55" cy="261.8" r="2.2" fill="none" stroke="#000" stroke-width="1.25"/>
<circle cx="151.64" cy="261.8" r="2.2" fill="none" stroke="#000" stroke-width="1.25"/>
<circle cx="144.78" cy="265.01" r="2.2" fill="none" stroke="#000" stroke-width="1.25"/>
<circle cx="153.1" cy="264.72" r="2.2" fill="none" stroke="#000" stroke-width="1.25"/>
<circle cx="158.21" cy="265.01" r="2.2" fill="none" stroke="#000" stroke-width="1.25"/>
<circle cx="137.77" cy="268.36" r="2.2" fill="none" stroke="#000" stroke-width="1.25"/>
<circle cx="142.15" cy="267.64" r="2.2" fill="none" stroke="#000" stroke-width="1.25"/>
<circle cx="147.55" cy="267.64" r="2.2" fill="none" stroke="#000" stroke-width="1.25"/>
<circle cx="150.33" cy="268.36" r="2.2" fill="none" stroke="#000" stroke-width="1.25"/>
<circle cx="155.29" cy="267.64" r="2.2" fill="none" stroke="#000" stroke-width="1.25"/>
<circle cx="161.13" cy="268.36" r="2.2" fill="none" stroke="#000" stroke-width="1.25"/>
<circle cx="164.05" cy="267.64" r="2.2" fill="none" stroke="#000" stroke-width="1.25"/>
<circle cx="134.85" cy="271.28" r="2.2" fill="none" stroke="#000" stroke-width="1.25"/>
<circle cx="139.96" cy="270.55" r="2.2" fill="none" stroke="#000" stroke-width="1.25"/>
<circle cx="144.78" cy="270.85" r="2.2" fill="none" stroke="#000" stroke-width="1.25"/>
<circle cx="148.72" cy="271.28" r="2.2" fill="none" stroke="#000" stroke-width="1.25"/>
<circle cx="153.1" cy="270.55" r="2.2" fill="none" stroke="#000" stroke-width="1.25"/>
<circle cx="157.48" cy="270.85" r="2.2" fill="none" stroke="#000" stroke-width="1.25"/>
<circle cx="162.59" cy="271.28" r="2.2" fill="none" stroke="#000" stroke-width="1.25"/>
<circle cx="166.68" cy="270.55" r="2.2" fill="none" stroke="#000" stroke-width="1.25"/>
<circle cx="137.04" cy="274.2" r="2.2" fill="none" stroke="#000" stroke-width="1.25"/>
<circle cx="142.15" cy="273.47" r="2.2" fill="none" stroke="#000" stroke-width="1.25"/>
<circle cx="146.53" cy="274.2" r="2.2" fill="none" stroke="#000" stroke-width="1.25"/>
<circle cx="150.91" cy="273.47" r="2.2" fill="none" stroke="#000" stroke-width="1.25"/>
<circle cx="155.29" cy="274.2" r="2.2" fill="none" stroke="#000" stroke-width="1.25"/>
<circle cx="159.67" cy="273.47" r="2.2" fill="none" stroke="#000" stroke-width="1.25"/>
<circle cx="164.05" cy="273.77" r="2.2" fill="none" stroke="#000" stroke-width="1.25"/>
<circle cx="137.77" cy="276.39" r="2.2" fill="none" stroke="#000" stroke-width="1.25"/>
<circle cx="143.61" cy="276.69" r="2.2" fill="none" stroke="#000" stroke-width="1.25"/>
<circle cx="147.55" cy="277.12" r="2.2" fill="none" stroke="#000" stroke-width="1.25"/>
<circle cx="153.1" cy="276.39" r="2.2" fill="none" stroke="#000" stroke-width="1.25"/>
<circle cx="157.48" cy="276.69" r="2.2" fill="none" stroke="#000" stroke-width="1.25"/>
<circle cx="162.15" cy="276.1" r="2.2" fill="none" stroke="#000" stroke-width="1.25"/>
<circle cx="203.83" cy="198.68" r="2.5" fill="#000"/>
<circle cx="203.83" cy="215.06" r="2.5" fill="#000"/>
<circle cx="203.83" cy="228.71" r="2.5" fill="#000"/>
<circle cx="209.04" cy="235.66" r="2.5" fill="#000"/>
<circle cx="202.22" cy="239.01" r="2.5" fill="#000"/>
<circle cx="198.5" cy="241.86" r="2.5" fill="#000"/>
<circle cx="205.94" cy="241.12" r="2.5" fill="#000"/>
<circle cx="209.04" cy="242.73" r="2.5" fill="#000"/>
<circle cx="205.32" cy="245.83" r="2.5" fill="#000"/>
<circle cx="202.22" cy="247.69" r="2.5" fill="#000"/>
<circle cx="202.22" cy="253.28" r="2.5" fill="#000"/>
<circle cx="205.32" cy="256.75" r="2.5" fill="#000"/>
<circle cx="198.75" cy="261.71" r="2.5" fill="#000"/>
<circle cx="188.2" cy="265.43" r="2.5" fill="#000"/>
<circle cx="212.52" cy="264.81" r="2.5" fill="#000"/>
<circle cx="191.67" cy="269.4" r="2.5" fill="#000"/>
<circle cx="198.5" cy="268.16" r="2.5" fill="#000"/>
<circle cx="202.22" cy="268.78" r="2.5" fill="#000"/>
<circle cx="205.94" cy="269.4" r="2.5" fill="#000"/>
<circle cx="209.04" cy="270.02" r="2.5" fill="#000"/>
<circle cx="215.87" cy="269.4" r="2.5" fill="#000"/>
<circle cx="188.2" cy="271.27" r="2.5" fill="#000"/>
<circle cx="195.15" cy="271.27" r="2.5" fill="#000"/>
<circle cx="202.22" cy="271.89" r="2.5" fill="#000"/>
<circle cx="209.04" cy="273.13" r="2.5" fill="#000"/>
<circle cx="195.15" cy="275.61" r="2.5" fill="#000"/>
<circle cx="202.22" cy="274.99" r="2.5" fill="#000"/>
<circle cx="205.94" cy="274.37" r="2.5" fill="#000"/>
<circle cx="212.52" cy="274.37" r="2.5" fill="#000"/>
<circle cx="209.04" cy="276.85" r="2.5" fill="#000"/>
</g>
<g id="panel-E">
<rect x="299" y="223.5" width="34.6" height="56" fill="#7f7f7f" stroke="#000" stroke-width="1.1"/>
<rect x="352.7" y="253.5" width="34.6" height="26" fill="#a1a1a1" stroke="#000" stroke-width="1.1"/>
<rect x="406.1" y="244.5" width="34.6" height="35" fill="#7f7f7f" stroke="#000" stroke-width="1.1"/>
<path d="M307.6 219.4H325M307.6 226.4H325M316.3 219.4V226.4" stroke="#000" stroke-width="0.7" fill="none"/>
<path d="M361.3 249.4H378.7M361.3 256.6H378.7M370 249.4V256.6" stroke="#000" stroke-width="0.7" fill="none"/>
<path d="M414.7 240H432.1M414.7 248H432.1M423.4 240V248" stroke="#000" stroke-width="0.7" fill="none"/>
<path d="M280.9 160.05V279.5" stroke="#000" stroke-width="1.15" fill="none"/>
<path d="M280.35 279.5H460" stroke="#000" stroke-width="1.15" fill="none"/>
<text x="274.9" y="282.7" font-size="9" text-anchor="end" font-weight="bold" font-style="normal">0</text>
<text x="274.9" y="258.92" font-size="9" text-anchor="end" font-weight="bold" font-style="normal">1000</text>
<text x="274.9" y="235.14" font-size="9" text-anchor="end" font-weight="bold" font-style="normal">2000</text>
<text x="274.9" y="211.36" font-size="9" text-anchor="end" font-weight="bold" font-style="normal">3000</text>
<text x="274.9" y="187.58" font-size="9" text-anchor="end" font-weight="bold" font-style="normal">4000</text>
<text x="274.9" y="163.8" font-size="9" text-anchor="end" font-weight="bold" font-style="normal">5000</text>
<path d="M276 279.5H280.9M276 255.72H280.9M276 231.94H280.9M276 208.16H280.9M276 184.38H280.9M276 160.6H280.9M316.3 279.5V284.1M370 279.5V284.1M423.4 279.5V284.1" stroke="#000" stroke-width="1.15" fill="none"/>
<text x="316.1" y="294" font-size="9" text-anchor="middle" font-weight="bold" font-style="normal">Healthy</text>
<text x="369.8" y="294" font-size="9" text-anchor="middle" font-weight="bold" font-style="normal">DwoWS</text>
<text x="423.2" y="294" font-size="9" text-anchor="middle" font-weight="bold" font-style="normal">DwWS</text>
<text transform="translate(248.3 220) rotate(-90)" font-size="11.45" text-anchor="middle" font-weight="bold">Lymphocytes (cells/µL)</text>
<text x="233.2" y="154.2" font-size="18.4" text-anchor="start" font-weight="bold" font-style="normal">E</text>
<text x="292.6" y="172.4" font-size="9.9" font-weight="bold">5<tspan font-size="7.1" dy="-4.1">th</tspan><tspan dy="4.1"> day</tspan></text>
<text x="292.6" y="183.5" font-size="9.9" text-anchor="start" font-weight="bold" font-style="normal">of fever</text>
<rect x="311.11" y="195.56" width="4.5" height="4.5" fill="none" stroke="#000" stroke-width="1.2"/>
<rect x="317.39" y="194.25" width="4.5" height="4.5" fill="none" stroke="#000" stroke-width="1.2"/>
<rect x="311.11" y="201.11" width="4.5" height="4.5" fill="none" stroke="#000" stroke-width="1.2"/>
<rect x="311.11" y="206.95" width="4.5" height="4.5" fill="none" stroke="#000" stroke-width="1.2"/>
<rect x="317.39" y="205.49" width="4.5" height="4.5" fill="none" stroke="#000" stroke-width="1.2"/>
<rect x="317.39" y="210.6" width="4.5" height="4.5" fill="none" stroke="#000" stroke-width="1.2"/>
<rect x="311.11" y="213.22" width="4.5" height="4.5" fill="none" stroke="#000" stroke-width="1.2"/>
<rect x="317.39" y="217.17" width="4.5" height="4.5" fill="none" stroke="#000" stroke-width="1.2"/>
<rect x="311.11" y="220.52" width="4.5" height="4.5" fill="none" stroke="#000" stroke-width="1.2"/>
<rect x="298.7" y="228.55" width="4.5" height="4.5" fill="none" stroke="#000" stroke-width="1.2"/>
<rect x="311.11" y="228.55" width="4.5" height="4.5" fill="none" stroke="#000" stroke-width="1.2"/>
<rect x="317.39" y="228.55" width="4.5" height="4.5" fill="none" stroke="#000" stroke-width="1.2"/>
<rect x="329.79" y="229.57" width="4.5" height="4.5" fill="none" stroke="#000" stroke-width="1.2"/>
<rect x="304.98" y="232.49" width="4.5" height="4.5" fill="none" stroke="#000" stroke-width="1.2"/>
<rect x="311.11" y="233.95" width="4.5" height="4.5" fill="none" stroke="#000" stroke-width="1.2"/>
<rect x="317.39" y="233.52" width="4.5" height="4.5" fill="none" stroke="#000" stroke-width="1.2"/>
<rect x="323.52" y="231.03" width="4.5" height="4.5" fill="none" stroke="#000" stroke-width="1.2"/>
<rect x="323.52" y="236.14" width="4.5" height="4.5" fill="none" stroke="#000" stroke-width="1.2"/>
<rect x="314.03" y="241.55" width="4.5" height="4.5" fill="none" stroke="#000" stroke-width="1.2"/>
<circle cx="370" cy="187.59" r="2.2" fill="none" stroke="#000" stroke-width="1.25"/>
<circle cx="370" cy="211.09" r="2.2" fill="none" stroke="#000" stroke-width="1.25"/>
<circle cx="373.94" cy="215.77" r="2.2" fill="none" stroke="#000" stroke-width="1.25"/>
<circle cx="370" cy="219.12" r="2.2" fill="none" stroke="#000" stroke-width="1.25"/>
<circle cx="373.94" cy="222.34" r="2.2" fill="none" stroke="#000" stroke-width="1.25"/>
<circle cx="373.94" cy="227.88" r="2.2" fill="none" stroke="#000" stroke-width="1.25"/>
<circle cx="370" cy="231.39" r="2.2" fill="none" stroke="#000" stroke-width="1.25"/>
<circle cx="368.1" cy="239.85" r="2.2" fill="none" stroke="#000" stroke-width="1.25"/>
<circle cx="371.75" cy="242.04" r="2.2" fill="none" stroke="#000" stroke-width="1.25"/>
<circle cx="370" cy="247.45" r="2.2" fill="none" stroke="#000" stroke-width="1.25"/>
<circle cx="365.91" cy="250.07" r="2.2" fill="none" stroke="#000" stroke-width="1.25"/>
<circle cx="373.94" cy="250.07" r="2.2" fill="none" stroke="#000" stroke-width="1.25"/>
<circle cx="370" cy="254.45" r="2.2" fill="none" stroke="#000" stroke-width="1.25"/>
<circle cx="358.61" cy="255.91" r="2.2" fill="none" stroke="#000" stroke-width="1.25"/>
<circle cx="373.94" cy="256.64" r="2.2" fill="none" stroke="#000" stroke-width="1.25"/>
<circle cx="354.23" cy="258.54" r="2.2" fill="none" stroke="#000" stroke-width="1.25"/>
<circle cx="365.91" cy="259.56" r="2.2" fill="none" stroke="#000" stroke-width="1.25"/>
<circle cx="377.59" cy="258.83" r="2.2" fill="none" stroke="#000" stroke-width="1.25"/>
<circle cx="381.97" cy="258.54" r="2.2" fill="none" stroke="#000" stroke-width="1.25"/>
<circle cx="357.88" cy="261.75" r="2.2" fill="none" stroke="#000" stroke-width="1.25"/>
<circle cx="362.26" cy="262.48" r="2.2" fill="none" stroke="#000" stroke-width="1.25"/>
<circle cx="370" cy="263.21" r="2.2" fill="none" stroke="#000" stroke-width="1.25"/>
<circle cx="373.94" cy="262.04" r="2.2" fill="none" stroke="#000" stroke-width="1.25"/>
<circle cx="385.62" cy="261.46" r="2.2" fill="none" stroke="#000" stroke-width="1.25"/>
<circle cx="354.23" cy="264.38" r="2.2" fill="none" stroke="#000" stroke-width="1.25"/>
<circle cx="365.91" cy="265.4" r="2.2" fill="none" stroke="#000" stroke-width="1.25"/>
<circle cx="377.59" cy="264.67" r="2.2" fill="none" stroke="#000" stroke-width="1.25"/>
<circle cx="381.97" cy="265.4" r="2.2" fill="none" stroke="#000" stroke-width="1.25"/>
<circle cx="357.88" cy="268.32" r="2.2" fill="none" stroke="#000" stroke-width="1.25"/>
<circle cx="362.26" cy="267.59" r="2.2" fill="none" stroke="#000" stroke-width="1.25"/>
<circle cx="370" cy="268.32" r="2.2" fill="none" stroke="#000" stroke-width="1.25"/>
<circle cx="373.94" cy="270.51" r="2.2" fill="none" stroke="#000" stroke-width="1.25"/>
<circle cx="385.62" cy="266.86" r="2.2" fill="none" stroke="#000" stroke-width="1.25"/>
<circle cx="365.91" cy="271.24" r="2.2" fill="none" stroke="#000" stroke-width="1.25"/>
<circle cx="377.59" cy="268.76" r="2.2" fill="none" stroke="#000" stroke-width="1.25"/>
<circle cx="381.97" cy="270.8" r="2.2" fill="none" stroke="#000" stroke-width="1.25"/>
<circle cx="370" cy="273.43" r="2.2" fill="none" stroke="#000" stroke-width="1.25"/>
<circle cx="368.1" cy="276.06" r="2.2" fill="none" stroke="#000" stroke-width="1.25"/>
<circle cx="371.75" cy="275.62" r="2.2" fill="none" stroke="#000" stroke-width="1.25"/>
<circle cx="420.81" cy="207.69" r="2.5" fill="#000"/>
<circle cx="426.02" cy="206.45" r="2.5" fill="#000"/>
<circle cx="433.71" cy="217.99" r="2.5" fill="#000"/>
<circle cx="407.78" cy="221.34" r="2.5" fill="#000"/>
<circle cx="418.2" cy="221.09" r="2.5" fill="#000"/>
<circle cx="423.29" cy="222.33" r="2.5" fill="#000"/>
<circle cx="412.99" cy="225.68" r="2.5" fill="#000"/>
<circle cx="428.5" cy="224.19" r="2.5" fill="#000"/>
<circle cx="433.71" cy="224.57" r="2.5" fill="#000"/>
<circle cx="423.29" cy="228.91" r="2.5" fill="#000"/>
<circle cx="420.81" cy="238.46" r="2.5" fill="#000"/>
<circle cx="426.02" cy="237.22" r="2.5" fill="#000"/>
<circle cx="418.2" cy="246.53" r="2.5" fill="#000"/>
<circle cx="433.71" cy="247.39" r="2.5" fill="#000"/>
<circle cx="407.78" cy="249.26" r="2.5" fill="#000"/>
<circle cx="439.04" cy="250" r="2.5" fill="#000"/>
<circle cx="412.99" cy="253.1" r="2.5" fill="#000"/>
<circle cx="418.2" cy="251.49" r="2.5" fill="#000"/>
<circle cx="423.29" cy="251.86" r="2.5" fill="#000"/>
<circle cx="428.5" cy="250.5" r="2.5" fill="#000"/>
<circle cx="433.71" cy="253.6" r="2.5" fill="#000"/>
<circle cx="418.2" cy="257.07" r="2.5" fill="#000"/>
<circle cx="423.29" cy="256.82" r="2.5" fill="#000"/>
<circle cx="428.5" cy="258.56" r="2.5" fill="#000"/>
<circle cx="418.2" cy="264.14" r="2.5" fill="#000"/>
<circle cx="423.29" cy="263.52" r="2.5" fill="#000"/>
<circle cx="428.5" cy="264.89" r="2.5" fill="#000"/>
<circle cx="423.29" cy="269.48" r="2.5" fill="#000"/>
<circle cx="428.5" cy="270.1" r="2.5" fill="#000"/>
<circle cx="418.2" cy="274.44" r="2.5" fill="#000"/>
</g>
<g id="panel-F">
<rect x="527.9" y="251.1" width="33.8" height="25.8" fill="#7f7f7f" stroke="#000" stroke-width="1.1"/>
<rect x="580.4" y="256.1" width="33.8" height="20.8" fill="#a1a1a1" stroke="#000" stroke-width="1.1"/>
<rect x="633.1" y="249.7" width="33.8" height="27.2" fill="#7f7f7f" stroke="#000" stroke-width="1.1"/>
<path d="M536.1 248.8H553.5M536.1 252.8H553.5M544.8 248.8V252.8" stroke="#000" stroke-width="0.7" fill="none"/>
<path d="M588.6 252.2H606M588.6 259H606M597.3 252.2V259" stroke="#000" stroke-width="0.7" fill="none"/>
<path d="M641.3 243.6H658.7M641.3 254.4H658.7M650 243.6V254.4" stroke="#000" stroke-width="0.7" fill="none"/>
<path d="M510 160.05V276.9" stroke="#000" stroke-width="1.15" fill="none"/>
<path d="M509.45 276.9H685" stroke="#000" stroke-width="1.15" fill="none"/>
<text x="504" y="280.1" font-size="9" text-anchor="end" font-weight="bold" font-style="normal">0</text>
<text x="504" y="241.33" font-size="9" text-anchor="end" font-weight="bold" font-style="normal">500</text>
<text x="504" y="202.57" font-size="9" text-anchor="end" font-weight="bold" font-style="normal">1000</text>
<text x="504" y="163.8" font-size="9" text-anchor="end" font-weight="bold" font-style="normal">1500</text>
<path d="M505.1 276.9H510M505.1 238.13H510M505.1 199.37H510M505.1 160.6H510M544.8 276.9V281.5M597.3 276.9V281.5M650 276.9V281.5" stroke="#000" stroke-width="1.15" fill="none"/>
<text x="544.6" y="291.4" font-size="9" text-anchor="middle" font-weight="bold" font-style="normal">Healthy</text>
<text x="597.1" y="291.4" font-size="9" text-anchor="middle" font-weight="bold" font-style="normal">DwoWS</text>
<text x="649.8" y="291.4" font-size="9" text-anchor="middle" font-weight="bold" font-style="normal">DwWS</text>
<text transform="translate(477.8 218.5) rotate(-90)" font-size="11.45" text-anchor="middle" font-weight="bold">Monocytes (cells/µL)</text>
<text x="446.4" y="154.2" font-size="18.4" text-anchor="start" font-weight="bold" font-style="normal">F</text>
<text x="521.6" y="171.6" font-size="9.9" font-weight="bold">5<tspan font-size="7.1" dy="-4.1">th</tspan><tspan dy="4.1"> day</tspan></text>
<text x="521.6" y="182.7" font-size="9.9" text-anchor="start" font-weight="bold" font-style="normal">of fever</text>
<rect x="545.49" y="236.44" width="4.5" height="4.5" fill="none" stroke="#000" stroke-width="1.2"/>
<rect x="551.62" y="236.44" width="4.5" height="4.5" fill="none" stroke="#000" stroke-width="1.2"/>
<rect x="527.68" y="240.52" width="4.5" height="4.5" fill="none" stroke="#000" stroke-width="1.2"/>
<rect x="539.65" y="240.82" width="4.5" height="4.5" fill="none" stroke="#000" stroke-width="1.2"/>
<rect x="557.9" y="241.25" width="4.5" height="4.5" fill="none" stroke="#000" stroke-width="1.2"/>
<rect x="533.52" y="243.44" width="4.5" height="4.5" fill="none" stroke="#000" stroke-width="1.2"/>
<rect x="545.49" y="242.42" width="4.5" height="4.5" fill="none" stroke="#000" stroke-width="1.2"/>
<rect x="551.62" y="244.17" width="4.5" height="4.5" fill="none" stroke="#000" stroke-width="1.2"/>
<rect x="527.68" y="247.82" width="4.5" height="4.5" fill="none" stroke="#000" stroke-width="1.2"/>
<rect x="545.49" y="247.53" width="4.5" height="4.5" fill="none" stroke="#000" stroke-width="1.2"/>
<rect x="527.68" y="252.93" width="4.5" height="4.5" fill="none" stroke="#000" stroke-width="1.2"/>
<rect x="533.52" y="251.91" width="4.5" height="4.5" fill="none" stroke="#000" stroke-width="1.2"/>
<rect x="539.65" y="251.47" width="4.5" height="4.5" fill="none" stroke="#000" stroke-width="1.2"/>
<rect x="545.49" y="252.93" width="4.5" height="4.5" fill="none" stroke="#000" stroke-width="1.2"/>
<rect x="551.62" y="250.74" width="4.5" height="4.5" fill="none" stroke="#000" stroke-width="1.2"/>
<rect x="557.17" y="250.74" width="4.5" height="4.5" fill="none" stroke="#000" stroke-width="1.2"/>
<rect x="539.65" y="256.58" width="4.5" height="4.5" fill="none" stroke="#000" stroke-width="1.2"/>
<rect x="545.49" y="258.04" width="4.5" height="4.5" fill="none" stroke="#000" stroke-width="1.2"/>
<rect x="551.62" y="255.85" width="4.5" height="4.5" fill="none" stroke="#000" stroke-width="1.2"/>
<rect x="557.17" y="255.12" width="4.5" height="4.5" fill="none" stroke="#000" stroke-width="1.2"/>
<rect x="539.65" y="261.69" width="4.5" height="4.5" fill="none" stroke="#000" stroke-width="1.2"/>
<circle cx="597.23" cy="193.43" r="2.2" fill="none" stroke="#000" stroke-width="1.25"/>
<circle cx="597.23" cy="201.9" r="2.2" fill="none" stroke="#000" stroke-width="1.25"/>
<circle cx="595.18" cy="227.88" r="2.2" fill="none" stroke="#000" stroke-width="1.25"/>
<circle cx="599.56" cy="228.61" r="2.2" fill="none" stroke="#000" stroke-width="1.25"/>
<circle cx="603.94" cy="236.64" r="2.2" fill="none" stroke="#000" stroke-width="1.25"/>
<circle cx="586.42" cy="238.39" r="2.2" fill="none" stroke="#000" stroke-width="1.25"/>
<circle cx="595.18" cy="239.85" r="2.2" fill="none" stroke="#000" stroke-width="1.25"/>
<circle cx="599.56" cy="242.04" r="2.2" fill="none" stroke="#000" stroke-width="1.25"/>
<circle cx="590.8" cy="243.5" r="2.2" fill="none" stroke="#000" stroke-width="1.25"/>
<circle cx="603.94" cy="243.5" r="2.2" fill="none" stroke="#000" stroke-width="1.25"/>
<circle cx="608.32" cy="243.5" r="2.2" fill="none" stroke="#000" stroke-width="1.25"/>
<circle cx="595.18" cy="247.88" r="2.2" fill="none" stroke="#000" stroke-width="1.25"/>
<circle cx="599.56" cy="247.15" r="2.2" fill="none" stroke="#000" stroke-width="1.25"/>
<circle cx="603.94" cy="248.61" r="2.2" fill="none" stroke="#000" stroke-width="1.25"/>
<circle cx="599.56" cy="252.99" r="2.2" fill="none" stroke="#000" stroke-width="1.25"/>
<circle cx="599.56" cy="258.1" r="2.2" fill="none" stroke="#000" stroke-width="1.25"/>
<circle cx="582.04" cy="261.02" r="2.2" fill="none" stroke="#000" stroke-width="1.25"/>
<circle cx="586.42" cy="261.46" r="2.2" fill="none" stroke="#000" stroke-width="1.25"/>
<circle cx="595.18" cy="261.02" r="2.2" fill="none" stroke="#000" stroke-width="1.25"/>
<circle cx="608.32" cy="260.29" r="2.2" fill="none" stroke="#000" stroke-width="1.25"/>
<circle cx="612.7" cy="262.48" r="2.2" fill="none" stroke="#000" stroke-width="1.25"/>
<circle cx="590.8" cy="264.67" r="2.2" fill="none" stroke="#000" stroke-width="1.25"/>
<circle cx="599.56" cy="263.94" r="2.2" fill="none" stroke="#000" stroke-width="1.25"/>
<circle cx="603.94" cy="263.21" r="2.2" fill="none" stroke="#000" stroke-width="1.25"/>
<circle cx="586.42" cy="267.59" r="2.2" fill="none" stroke="#000" stroke-width="1.25"/>
<circle cx="608.32" cy="267.3" r="2.2" fill="none" stroke="#000" stroke-width="1.25"/>
<circle cx="595.18" cy="269.34" r="2.2" fill="none" stroke="#000" stroke-width="1.25"/>
<circle cx="599.56" cy="269.05" r="2.2" fill="none" stroke="#000" stroke-width="1.25"/>
<circle cx="582.04" cy="270.51" r="2.2" fill="none" stroke="#000" stroke-width="1.25"/>
<circle cx="586.42" cy="273.43" r="2.2" fill="none" stroke="#000" stroke-width="1.25"/>
<circle cx="595.18" cy="274.16" r="2.2" fill="none" stroke="#000" stroke-width="1.25"/>
<circle cx="582.04" cy="276.64" r="2.2" fill="none" stroke="#000" stroke-width="1.25"/>
<circle cx="590.8" cy="276.64" r="2.2" fill="none" stroke="#000" stroke-width="1.25"/>
<circle cx="599.56" cy="276.64" r="2.2" fill="none" stroke="#000" stroke-width="1.25"/>
<circle cx="603.94" cy="276.64" r="2.2" fill="none" stroke="#000" stroke-width="1.25"/>
<circle cx="608.32" cy="276.64" r="2.2" fill="none" stroke="#000" stroke-width="1.25"/>
<circle cx="612.7" cy="276.64" r="2.2" fill="none" stroke="#000" stroke-width="1.25"/>
<circle cx="586.42" cy="275.62" r="2.2" fill="none" stroke="#000" stroke-width="1.25"/>
<circle cx="649.74" cy="165.88" r="2.5" fill="#000"/>
<circle cx="649.74" cy="192.48" r="2.5" fill="#000"/>
<circle cx="652.04" cy="211.86" r="2.5" fill="#000"/>
<circle cx="647.44" cy="214.16" r="2.5" fill="#000"/>
<circle cx="652.04" cy="225" r="2.5" fill="#000"/>
<circle cx="647.77" cy="226.14" r="2.5" fill="#000"/>
<circle cx="656.31" cy="226.14" r="2.5" fill="#000"/>
<circle cx="643.33" cy="229.43" r="2.5" fill="#000"/>
<circle cx="647.77" cy="233.53" r="2.5" fill="#000"/>
<circle cx="652.04" cy="234.35" r="2.5" fill="#000"/>
<circle cx="649.74" cy="239.61" r="2.5" fill="#000"/>
<circle cx="652.04" cy="245.85" r="2.5" fill="#000"/>
<circle cx="647.77" cy="249.63" r="2.5" fill="#000"/>
<circle cx="652.04" cy="256.03" r="2.5" fill="#000"/>
<circle cx="647.77" cy="257.84" r="2.5" fill="#000"/>
<circle cx="643.33" cy="259.81" r="2.5" fill="#000"/>
<circle cx="660.57" cy="260.13" r="2.5" fill="#000"/>
<circle cx="639.06" cy="263.09" r="2.5" fill="#000"/>
<circle cx="643.33" cy="264.73" r="2.5" fill="#000"/>
<circle cx="652.04" cy="264.4" r="2.5" fill="#000"/>
<circle cx="656.31" cy="264.4" r="2.5" fill="#000"/>
<circle cx="647.77" cy="267.69" r="2.5" fill="#000"/>
<circle cx="639.06" cy="274.26" r="2.5" fill="#000"/>
<circle cx="634.63" cy="276.56" r="2.5" fill="#000"/>
<circle cx="643.33" cy="276.56" r="2.5" fill="#000"/>
<circle cx="647.77" cy="276.56" r="2.5" fill="#000"/>
<circle cx="652.04" cy="276.56" r="2.5" fill="#000"/>
<circle cx="656.31" cy="276.56" r="2.5" fill="#000"/>
<circle cx="660.57" cy="276.56" r="2.5" fill="#000"/>
<circle cx="664.84" cy="276.56" r="2.5" fill="#000"/>
</g>
<g id="panel-G">
<rect x="138.2" y="420.5" width="32.8" height="10.9" fill="#a1a1a1" stroke="#000" stroke-width="1.1"/>
<rect x="189.8" y="412.5" width="32.8" height="18.9" fill="#7f7f7f" stroke="#000" stroke-width="1.1"/>
<path d="M145.9 416H163.3M145.9 423.6H163.3M154.6 416V423.6" stroke="#000" stroke-width="0.7" fill="none"/>
<path d="M197.5 408H214.9M197.5 415.8H214.9M206.2 408V415.8" stroke="#000" stroke-width="0.7" fill="none"/>
<path d="M68.6 316.05V431.4" stroke="#000" stroke-width="1.15" fill="none"/>
<path d="M68.05 431.4H241" stroke="#000" stroke-width="1.15" fill="none"/>
<text x="62.6" y="434.6" font-size="9" text-anchor="end" font-weight="bold" font-style="normal">0</text>
<text x="62.6" y="411.64" font-size="9" text-anchor="end" font-weight="bold" font-style="normal">1000</text>
<text x="62.6" y="388.68" font-size="9" text-anchor="end" font-weight="bold" font-style="normal">2000</text>
<text x="62.6" y="365.72" font-size="9" text-anchor="end" font-weight="bold" font-style="normal">3000</text>
<text x="62.6" y="342.76" font-size="9" text-anchor="end" font-weight="bold" font-style="normal">4000</text>
<text x="62.6" y="319.8" font-size="9" text-anchor="end" font-weight="bold" font-style="normal">5000</text>
<path d="M63.7 431.4H68.6M63.7 408.44H68.6M63.7 385.48H68.6M63.7 362.52H68.6M63.7 339.56H68.6M63.7 316.6H68.6M103 431.4V436M154.6 431.4V436M206.2 431.4V436" stroke="#000" stroke-width="1.15" fill="none"/>
<text x="102.8" y="445.9" font-size="9" text-anchor="middle" font-weight="bold" font-style="normal">Healthy</text>
<text x="154.4" y="445.9" font-size="9" text-anchor="middle" font-weight="bold" font-style="normal">DwoWS</text>
<text x="206" y="445.9" font-size="9" text-anchor="middle" font-weight="bold" font-style="normal">DwWS</text>
<text transform="translate(25.8 373.8) rotate(-90)" font-size="11.45" text-anchor="middle" font-weight="bold">Atypical</text>
<text transform="translate(38.3 373.8) rotate(-90)" font-size="11.45" text-anchor="middle" font-weight="bold">Lymphocytes (cells/µL)</text>
<text x="3" y="317.2" font-size="18.4" text-anchor="start" font-weight="bold" font-style="normal">G</text>
<text x="80.2" y="328" font-size="9.9" font-weight="bold">5<tspan font-size="7.1" dy="-4.1">th</tspan><tspan dy="4.1"> day</tspan></text>
<text x="80.2" y="339.1" font-size="9.9" text-anchor="start" font-weight="bold" font-style="normal">of fever</text>
<text x="77" y="366.7" font-size="8.7" font-weight="normal" font-style="italic" fill="#111" stroke="#111" stroke-width="0.15" style="white-space:pre">*, p &lt; 0.05</text>
<text x="77" y="376.3" font-size="8.7" font-weight="normal" font-style="italic" fill="#111" stroke="#111" stroke-width="0.15" style="white-space:pre">#,  &lt; 0.05</text>
<text x="77" y="385.7" font-size="8.7" font-weight="normal" font-style="italic" fill="#111" stroke="#111" stroke-width="0.15" style="white-space:pre">vs. healthy</text>
<text x="154.6" y="347.7" font-size="10.3" text-anchor="middle" font-weight="normal" font-style="normal" stroke="#000" stroke-width="0.15">#</text>
<text x="206" y="337.3" font-size="10.3" text-anchor="middle" font-weight="normal" font-style="normal" stroke="#000" stroke-width="0.15">#</text>
<rect x="85.05" y="429.1" width="4.5" height="4.5" fill="none" stroke="#000" stroke-width="1.2"/>
<rect x="89.57" y="429.1" width="4.5" height="4.5" fill="none" stroke="#000" stroke-width="1.2"/>
<rect x="94.1" y="429.1" width="4.5" height="4.5" fill="none" stroke="#000" stroke-width="1.2"/>
<rect x="98.63" y="429.1" width="4.5" height="4.5" fill="none" stroke="#000" stroke-width="1.2"/>
<rect x="103.15" y="429.1" width="4.5" height="4.5" fill="none" stroke="#000" stroke-width="1.2"/>
<rect x="107.68" y="429.1" width="4.5" height="4.5" fill="none" stroke="#000" stroke-width="1.2"/>
<rect x="112.2" y="429.1" width="4.5" height="4.5" fill="none" stroke="#000" stroke-width="1.2"/>
<rect x="116.44" y="429.1" width="4.5" height="4.5" fill="none" stroke="#000" stroke-width="1.2"/>
<circle cx="153.72" cy="354.71" r="2.2" fill="none" stroke="#000" stroke-width="1.25"/>
<circle cx="155.33" cy="353.69" r="2.2" fill="none" stroke="#000" stroke-width="1.25"/>
<circle cx="154.6" cy="391.2" r="2.2" fill="none" stroke="#000" stroke-width="1.25"/>
<circle cx="154.6" cy="393.39" r="2.2" fill="none" stroke="#000" stroke-width="1.25"/>
<circle cx="154.6" cy="395.58" r="2.2" fill="none" stroke="#000" stroke-width="1.25"/>
<circle cx="151.17" cy="416.17" r="2.2" fill="none" stroke="#000" stroke-width="1.25"/>
<circle cx="154.09" cy="415.44" r="2.2" fill="none" stroke="#000" stroke-width="1.25"/>
<circle cx="157.37" cy="416.17" r="2.2" fill="none" stroke="#000" stroke-width="1.25"/>
<circle cx="152.63" cy="413.61" r="2.2" fill="none" stroke="#000" stroke-width="1.25"/>
<circle cx="155.55" cy="413.25" r="2.2" fill="none" stroke="#000" stroke-width="1.25"/>
<circle cx="154.09" cy="412.15" r="2.2" fill="none" stroke="#000" stroke-width="1.25"/>
<circle cx="159.2" cy="415.8" r="2.2" fill="none" stroke="#000" stroke-width="1.25"/>
<circle cx="149.71" cy="416.53" r="2.2" fill="none" stroke="#000" stroke-width="1.25"/>
<circle cx="154.09" cy="421.64" r="2.2" fill="none" stroke="#000" stroke-width="1.25"/>
<circle cx="154.09" cy="423.1" r="2.2" fill="none" stroke="#000" stroke-width="1.25"/>
<circle cx="154.09" cy="424.56" r="2.2" fill="none" stroke="#000" stroke-width="1.25"/>
<circle cx="154.09" cy="426.02" r="2.2" fill="none" stroke="#000" stroke-width="1.25"/>
<circle cx="152.63" cy="425.29" r="2.2" fill="none" stroke="#000" stroke-width="1.25"/>
<circle cx="155.55" cy="425.29" r="2.2" fill="none" stroke="#000" stroke-width="1.25"/>
<circle cx="140.95" cy="427.12" r="2.2" fill="none" stroke="#000" stroke-width="1.25"/>
<circle cx="144.6" cy="427.85" r="2.2" fill="none" stroke="#000" stroke-width="1.25"/>
<circle cx="161.39" cy="427.48" r="2.2" fill="none" stroke="#000" stroke-width="1.25"/>
<circle cx="165.77" cy="427.12" r="2.2" fill="none" stroke="#000" stroke-width="1.25"/>
<circle cx="169.42" cy="428.94" r="2.2" fill="none" stroke="#000" stroke-width="1.25"/>
<circle cx="139.49" cy="431.5" r="2.2" fill="none" stroke="#000" stroke-width="1.25"/>
<circle cx="142.48" cy="431.5" r="2.2" fill="none" stroke="#000" stroke-width="1.25"/>
<circle cx="145.47" cy="431.5" r="2.2" fill="none" stroke="#000" stroke-width="1.25"/>
<circle cx="148.47" cy="431.5" r="2.2" fill="none" stroke="#000" stroke-width="1.25"/>
<circle cx="151.46" cy="431.5" r="2.2" fill="none" stroke="#000" stroke-width="1.25"/>
<circle cx="154.45" cy="431.5" r="2.2" fill="none" stroke="#000" stroke-width="1.25"/>
<circle cx="157.45" cy="431.5" r="2.2" fill="none" stroke="#000" stroke-width="1.25"/>
<circle cx="160.44" cy="431.5" r="2.2" fill="none" stroke="#000" stroke-width="1.25"/>
<circle cx="163.43" cy="431.5" r="2.2" fill="none" stroke="#000" stroke-width="1.25"/>
<circle cx="166.42" cy="431.5" r="2.2" fill="none" stroke="#000" stroke-width="1.25"/>
<circle cx="169.42" cy="431.5" r="2.2" fill="none" stroke="#000" stroke-width="1.25"/>
<circle cx="140.22" cy="429.45" r="2.2" fill="none" stroke="#000" stroke-width="1.25"/>
<circle cx="143.5" cy="429.45" r="2.2" fill="none" stroke="#000" stroke-width="1.25"/>
<circle cx="146.79" cy="429.45" r="2.2" fill="none" stroke="#000" stroke-width="1.25"/>
<circle cx="150.07" cy="429.45" r="2.2" fill="none" stroke="#000" stroke-width="1.25"/>
<circle cx="153.36" cy="429.45" r="2.2" fill="none" stroke="#000" stroke-width="1.25"/>
<circle cx="156.64" cy="429.45" r="2.2" fill="none" stroke="#000" stroke-width="1.25"/>
<circle cx="159.93" cy="429.45" r="2.2" fill="none" stroke="#000" stroke-width="1.25"/>
<circle cx="163.21" cy="429.45" r="2.2" fill="none" stroke="#000" stroke-width="1.25"/>
<circle cx="166.5" cy="429.45" r="2.2" fill="none" stroke="#000" stroke-width="1.25"/>
<circle cx="169.78" cy="429.45" r="2.2" fill="none" stroke="#000" stroke-width="1.25"/>
<circle cx="205.93" cy="342.73" r="2.5" fill="#000"/>
<circle cx="212.31" cy="385.44" r="2.5" fill="#000"/>
<circle cx="209.32" cy="386.53" r="2.5" fill="#000"/>
<circle cx="206.34" cy="387.61" r="2.5" fill="#000"/>
<circle cx="203.22" cy="388.69" r="2.5" fill="#000"/>
<circle cx="203.22" cy="394.66" r="2.5" fill="#000"/>
<circle cx="205.93" cy="396.69" r="2.5" fill="#000"/>
<circle cx="208.92" cy="398.05" r="2.5" fill="#000"/>
<circle cx="208.92" cy="405.51" r="2.5" fill="#000"/>
<circle cx="200.1" cy="407.54" r="2.5" fill="#000"/>
<circle cx="203.22" cy="408.22" r="2.5" fill="#000"/>
<circle cx="205.93" cy="408.9" r="2.5" fill="#000"/>
<circle cx="208.92" cy="410.25" r="2.5" fill="#000"/>
<circle cx="203.22" cy="412.97" r="2.5" fill="#000"/>
<circle cx="200.1" cy="417.03" r="2.5" fill="#000"/>
<circle cx="205.93" cy="417.03" r="2.5" fill="#000"/>
<circle cx="208.92" cy="417.71" r="2.5" fill="#000"/>
<circle cx="203.22" cy="419.75" r="2.5" fill="#000"/>
<circle cx="200.1" cy="421.78" r="2.5" fill="#000"/>
<circle cx="194.41" cy="427.47" r="2.5" fill="#000"/>
<circle cx="197.12" cy="428.56" r="2.5" fill="#000"/>
<circle cx="200.1" cy="428.56" r="2.5" fill="#000"/>
<circle cx="205.93" cy="428.56" r="2.5" fill="#000"/>
<circle cx="191.02" cy="431" r="2.5" fill="#000"/>
<circle cx="203.22" cy="431.54" r="2.5" fill="#000"/>
<circle cx="209.32" cy="430.59" r="2.5" fill="#000"/>
<circle cx="212.03" cy="431" r="2.5" fill="#000"/>
<circle cx="215.42" cy="431.54" r="2.5" fill="#000"/>
<circle cx="218.14" cy="430.59" r="2.5" fill="#000"/>
<circle cx="220.85" cy="429.92" r="2.5" fill="#000"/>
</g>
<g id="panel-H">
<rect x="356.4" y="427.1" width="33.2" height="4.8" fill="#a1a1a1" stroke="#000" stroke-width="1.1"/>
<rect x="408.4" y="415.1" width="33.2" height="16.8" fill="#7f7f7f" stroke="#000" stroke-width="1.1"/>
<path d="M364.3 424.4H381.7M364.3 428.8H381.7M373 424.4V428.8" stroke="#000" stroke-width="0.7" fill="none"/>
<path d="M416.3 409H433.7M416.3 419.6H433.7M425 409V419.6" stroke="#000" stroke-width="0.7" fill="none"/>
<path d="M286.3 315.45V369.3M286.3 378V431.9" stroke="#000" stroke-width="1.15" fill="none"/>
<path d="M283.3 367.5L289.3 372.9" stroke="#000" stroke-width="1.15" fill="none"/>
<path d="M283.3 375.1L289.3 380.5" stroke="#000" stroke-width="1.15" fill="none"/>
<path d="M285.75 431.9H460" stroke="#000" stroke-width="1.15" fill="none"/>
<text x="280.3" y="435.2" font-size="9" text-anchor="end" font-weight="bold" font-style="normal">0</text>
<text x="280.3" y="419.87" font-size="9" text-anchor="end" font-weight="bold" font-style="normal">200</text>
<text x="280.3" y="404.53" font-size="9" text-anchor="end" font-weight="bold" font-style="normal">400</text>
<text x="280.3" y="389.2" font-size="9" text-anchor="end" font-weight="bold" font-style="normal">600</text>
<text x="280.3" y="368.6" font-size="9" text-anchor="end" font-weight="bold" font-style="normal">1000</text>
<text x="280.3" y="356.25" font-size="9" text-anchor="end" font-weight="bold" font-style="normal">1500</text>
<text x="280.3" y="343.9" font-size="9" text-anchor="end" font-weight="bold" font-style="normal">2000</text>
<text x="280.3" y="331.55" font-size="9" text-anchor="end" font-weight="bold" font-style="normal">2500</text>
<text x="280.3" y="319.2" font-size="9" text-anchor="end" font-weight="bold" font-style="normal">3000</text>
<path d="M281.4 432H286.3M281.4 416.67H286.3M281.4 401.33H286.3M281.4 386H286.3M281.4 365.4H286.3M281.4 353.05H286.3M281.4 340.7H286.3M281.4 328.35H286.3M281.4 316H286.3M321 431.9V436.5M373 431.9V436.5M425 431.9V436.5" stroke="#000" stroke-width="1.15" fill="none"/>
<text x="320.8" y="446.4" font-size="9" text-anchor="middle" font-weight="bold" font-style="normal">Healthy</text>
<text x="372.8" y="446.4" font-size="9" text-anchor="middle" font-weight="bold" font-style="normal">DwoWS</text>
<text x="424.8" y="446.4" font-size="9" text-anchor="middle" font-weight="bold" font-style="normal">DwWS</text>
<text transform="translate(241.9 373) rotate(-90)" font-size="12.3" text-anchor="middle" font-weight="normal">Band form</text>
<text transform="translate(254.3 373) rotate(-90)" font-size="12.3" text-anchor="middle" font-weight="normal">neutrophils (cells/µL)</text>
<text x="235" y="316.8" font-size="18.4" text-anchor="start" font-weight="bold" font-style="normal">H</text>
<text x="297.6" y="327.6" font-size="9.9" font-weight="bold">5<tspan font-size="7.1" dy="-4.1">th</tspan><tspan dy="4.1"> day</tspan></text>
<text x="297.6" y="338.7" font-size="9.9" text-anchor="start" font-weight="bold" font-style="normal">of fever</text>
<text x="294" y="376.7" font-size="9" font-weight="normal" font-style="italic" fill="#111" stroke="#111" stroke-width="0.15" style="white-space:pre">#,  &lt; 0.05</text>
<text x="294" y="385.9" font-size="9" font-weight="normal" font-style="italic" fill="#111" stroke="#111" stroke-width="0.15" style="white-space:pre">vs. healthy</text>
<text x="425" y="335.3" font-size="10.3" text-anchor="middle" font-weight="normal" font-style="normal" stroke="#000" stroke-width="0.15">#</text>
<rect x="302.97" y="429.39" width="4.5" height="4.5" fill="none" stroke="#000" stroke-width="1.2"/>
<rect x="306.47" y="429.39" width="4.5" height="4.5" fill="none" stroke="#000" stroke-width="1.2"/>
<rect x="309.98" y="429.39" width="4.5" height="4.5" fill="none" stroke="#000" stroke-width="1.2"/>
<rect x="313.48" y="429.39" width="4.5" height="4.5" fill="none" stroke="#000" stroke-width="1.2"/>
<rect x="316.98" y="429.39" width="4.5" height="4.5" fill="none" stroke="#000" stroke-width="1.2"/>
<rect x="320.49" y="429.39" width="4.5" height="4.5" fill="none" stroke="#000" stroke-width="1.2"/>
<rect x="323.99" y="429.39" width="4.5" height="4.5" fill="none" stroke="#000" stroke-width="1.2"/>
<rect x="327.49" y="429.39" width="4.5" height="4.5" fill="none" stroke="#000" stroke-width="1.2"/>
<rect x="331" y="429.39" width="4.5" height="4.5" fill="none" stroke="#000" stroke-width="1.2"/>
<rect x="334.36" y="429.39" width="4.5" height="4.5" fill="none" stroke="#000" stroke-width="1.2"/>
<circle cx="374.56" cy="395.58" r="2.2" fill="none" stroke="#000" stroke-width="1.25"/>
<circle cx="371.64" cy="398.8" r="2.2" fill="none" stroke="#000" stroke-width="1.25"/>
<circle cx="373.1" cy="399.96" r="2.2" fill="none" stroke="#000" stroke-width="1.25"/>
<circle cx="373.1" cy="403.61" r="2.2" fill="none" stroke="#000" stroke-width="1.25"/>
<circle cx="373.1" cy="407.99" r="2.2" fill="none" stroke="#000" stroke-width="1.25"/>
<circle cx="373.1" cy="418.21" r="2.2" fill="none" stroke="#000" stroke-width="1.25"/>
<circle cx="373.1" cy="422.59" r="2.2" fill="none" stroke="#000" stroke-width="1.25"/>
<circle cx="370.91" cy="424.78" r="2.2" fill="none" stroke="#000" stroke-width="1.25"/>
<circle cx="375.29" cy="424.78" r="2.2" fill="none" stroke="#000" stroke-width="1.25"/>
<circle cx="357.48" cy="431.93" r="2.2" fill="none" stroke="#000" stroke-width="1.25"/>
<circle cx="360.33" cy="431.93" r="2.2" fill="none" stroke="#000" stroke-width="1.25"/>
<circle cx="363.18" cy="431.93" r="2.2" fill="none" stroke="#000" stroke-width="1.25"/>
<circle cx="366.02" cy="431.93" r="2.2" fill="none" stroke="#000" stroke-width="1.25"/>
<circle cx="368.87" cy="431.93" r="2.2" fill="none" stroke="#000" stroke-width="1.25"/>
<circle cx="371.72" cy="431.93" r="2.2" fill="none" stroke="#000" stroke-width="1.25"/>
<circle cx="374.56" cy="431.93" r="2.2" fill="none" stroke="#000" stroke-width="1.25"/>
<circle cx="377.41" cy="431.93" r="2.2" fill="none" stroke="#000" stroke-width="1.25"/>
<circle cx="380.26" cy="431.93" r="2.2" fill="none" stroke="#000" stroke-width="1.25"/>
<circle cx="383.1" cy="431.93" r="2.2" fill="none" stroke="#000" stroke-width="1.25"/>
<circle cx="385.95" cy="431.93" r="2.2" fill="none" stroke="#000" stroke-width="1.25"/>
<circle cx="388.8" cy="431.93" r="2.2" fill="none" stroke="#000" stroke-width="1.25"/>
<circle cx="359.96" cy="430.91" r="2.2" fill="none" stroke="#000" stroke-width="1.25"/>
<circle cx="363.76" cy="430.91" r="2.2" fill="none" stroke="#000" stroke-width="1.25"/>
<circle cx="367.55" cy="430.91" r="2.2" fill="none" stroke="#000" stroke-width="1.25"/>
<circle cx="371.35" cy="430.91" r="2.2" fill="none" stroke="#000" stroke-width="1.25"/>
<circle cx="375.15" cy="430.91" r="2.2" fill="none" stroke="#000" stroke-width="1.25"/>
<circle cx="378.94" cy="430.91" r="2.2" fill="none" stroke="#000" stroke-width="1.25"/>
<circle cx="382.74" cy="430.91" r="2.2" fill="none" stroke="#000" stroke-width="1.25"/>
<circle cx="386.53" cy="430.91" r="2.2" fill="none" stroke="#000" stroke-width="1.25"/>
<circle cx="358.8" cy="431.5" r="2.2" fill="none" stroke="#000" stroke-width="1.25"/>
<circle cx="361.93" cy="431.5" r="2.2" fill="none" stroke="#000" stroke-width="1.25"/>
<circle cx="365.07" cy="431.5" r="2.2" fill="none" stroke="#000" stroke-width="1.25"/>
<circle cx="368.21" cy="431.5" r="2.2" fill="none" stroke="#000" stroke-width="1.25"/>
<circle cx="371.35" cy="431.5" r="2.2" fill="none" stroke="#000" stroke-width="1.25"/>
<circle cx="374.49" cy="431.5" r="2.2" fill="none" stroke="#000" stroke-width="1.25"/>
<circle cx="377.63" cy="431.5" r="2.2" fill="none" stroke="#000" stroke-width="1.25"/>
<circle cx="380.77" cy="431.5" r="2.2" fill="none" stroke="#000" stroke-width="1.25"/>
<circle cx="383.91" cy="431.5" r="2.2" fill="none" stroke="#000" stroke-width="1.25"/>
<circle cx="387.04" cy="431.5" r="2.2" fill="none" stroke="#000" stroke-width="1.25"/>
<circle cx="424.85" cy="344.63" r="2.5" fill="#000"/>
<circle cx="424.85" cy="365.89" r="2.5" fill="#000"/>
<circle cx="424.85" cy="385.67" r="2.5" fill="#000"/>
<circle cx="422.17" cy="387.45" r="2.5" fill="#000"/>
<circle cx="427.83" cy="389.24" r="2.5" fill="#000"/>
<circle cx="422.17" cy="397.86" r="2.5" fill="#000"/>
<circle cx="424.85" cy="400.54" r="2.5" fill="#000"/>
<circle cx="419.94" cy="410.95" r="2.5" fill="#000"/>
<circle cx="427.83" cy="411.25" r="2.5" fill="#000"/>
<circle cx="422.17" cy="414.22" r="2.5" fill="#000"/>
<circle cx="424.85" cy="414.96" r="2.5" fill="#000"/>
<circle cx="429.61" cy="414.96" r="2.5" fill="#000"/>
<circle cx="427.83" cy="416.9" r="2.5" fill="#000"/>
<circle cx="424.85" cy="418.68" r="2.5" fill="#000"/>
<circle cx="422.17" cy="419.87" r="2.5" fill="#000"/>
<circle cx="417.42" cy="426.86" r="2.5" fill="#000"/>
<circle cx="424.85" cy="426.12" r="2.5" fill="#000"/>
<circle cx="429.61" cy="427.16" r="2.5" fill="#000"/>
<circle cx="434.81" cy="424.33" r="2.5" fill="#000"/>
<circle cx="411.77" cy="429.54" r="2.5" fill="#000"/>
<circle cx="409.54" cy="431.77" r="2.5" fill="#000"/>
<circle cx="414" cy="431.77" r="2.5" fill="#000"/>
<circle cx="417.71" cy="431.77" r="2.5" fill="#000"/>
<circle cx="421.43" cy="431.77" r="2.5" fill="#000"/>
<circle cx="425.15" cy="431.77" r="2.5" fill="#000"/>
<circle cx="428.87" cy="431.77" r="2.5" fill="#000"/>
<circle cx="432.58" cy="431.77" r="2.5" fill="#000"/>
<circle cx="436.3" cy="431.77" r="2.5" fill="#000"/>
<circle cx="440.02" cy="431.77" r="2.5" fill="#000"/>
</g>
<g id="panel-I">
<rect x="524.1" y="378.2" width="34.4" height="58.2" fill="#7f7f7f" stroke="#000" stroke-width="1.1"/>
<rect x="577.8" y="421.5" width="34.4" height="14.9" fill="#a1a1a1" stroke="#000" stroke-width="1.1"/>
<rect x="631.6" y="424.5" width="34.4" height="11.9" fill="#7f7f7f" stroke="#000" stroke-width="1.1"/>
<path d="M532.6 376.4H550M532.6 379.6H550M541.3 376.4V379.6" stroke="#000" stroke-width="0.7" fill="none"/>
<path d="M586.3 419.4H603.7M586.3 422.6H603.7M595 419.4V422.6" stroke="#000" stroke-width="0.7" fill="none"/>
<path d="M640.1 422.6H657.5M640.1 425.4H657.5M648.8 422.6V425.4" stroke="#000" stroke-width="0.7" fill="none"/>
<path d="M506 317.05V436.4" stroke="#000" stroke-width="1.15" fill="none"/>
<path d="M505.45 436.4H685" stroke="#000" stroke-width="1.15" fill="none"/>
<text x="500" y="439.6" font-size="9" text-anchor="end" font-weight="bold" font-style="normal">0</text>
<text x="500" y="400" font-size="9" text-anchor="end" font-weight="bold" font-style="normal">200000</text>
<text x="500" y="360.4" font-size="9" text-anchor="end" font-weight="bold" font-style="normal">400000</text>
<text x="500" y="320.8" font-size="9" text-anchor="end" font-weight="bold" font-style="normal">600000</text>
<path d="M501.1 436.4H506M501.1 396.8H506M501.1 357.2H506M501.1 317.6H506M541.3 436.4V441M595 436.4V441M648.8 436.4V441" stroke="#000" stroke-width="1.15" fill="none"/>
<text x="541.1" y="450.9" font-size="9" text-anchor="middle" font-weight="bold" font-style="normal">Healthy</text>
<text x="594.8" y="450.9" font-size="9" text-anchor="middle" font-weight="bold" font-style="normal">DwoWS</text>
<text x="648.6" y="450.9" font-size="9" text-anchor="middle" font-weight="bold" font-style="normal">DwWS</text>
<text transform="translate(462.5 377) rotate(-90)" font-size="12.3" text-anchor="middle" font-weight="normal">Platelets (cells/µL)</text>
<text x="448.6" y="316.8" font-size="18.4" text-anchor="start" font-weight="bold" font-style="normal">I</text>
<text x="517.6" y="329" font-size="9.9" font-weight="bold">5<tspan font-size="7.1" dy="-4.1">th</tspan><tspan dy="4.1"> day</tspan></text>
<text x="517.6" y="340.1" font-size="9.9" text-anchor="start" font-weight="bold" font-style="normal">of fever</text>
<text x="578.4" y="344.5" font-size="9" font-weight="normal" font-style="italic" fill="#111" stroke="#111" stroke-width="0.15" style="white-space:pre">#,  &lt; 0.05</text>
<text x="578.4" y="354.1" font-size="9" font-weight="normal" font-style="italic" fill="#111" stroke="#111" stroke-width="0.15" style="white-space:pre">vs. healthy</text>
<text x="595" y="386.3" font-size="10.3" text-anchor="middle" font-weight="normal" font-style="normal" stroke="#000" stroke-width="0.15">#</text>
<text x="649.4" y="394.7" font-size="10.3" text-anchor="middle" font-weight="normal" font-style="normal" stroke="#000" stroke-width="0.15">#</text>
<rect x="539.06" y="358.7" width="4.5" height="4.5" fill="none" stroke="#000" stroke-width="1.2"/>
<rect x="536.44" y="363.52" width="4.5" height="4.5" fill="none" stroke="#000" stroke-width="1.2"/>
<rect x="550.16" y="367.46" width="4.5" height="4.5" fill="none" stroke="#000" stroke-width="1.2"/>
<rect x="536.44" y="371.11" width="4.5" height="4.5" fill="none" stroke="#000" stroke-width="1.2"/>
<rect x="554.83" y="371.11" width="4.5" height="4.5" fill="none" stroke="#000" stroke-width="1.2"/>
<rect x="523.59" y="373.3" width="4.5" height="4.5" fill="none" stroke="#000" stroke-width="1.2"/>
<rect x="527.97" y="372.86" width="4.5" height="4.5" fill="none" stroke="#000" stroke-width="1.2"/>
<rect x="550.16" y="373.3" width="4.5" height="4.5" fill="none" stroke="#000" stroke-width="1.2"/>
<rect x="532.35" y="374.76" width="4.5" height="4.5" fill="none" stroke="#000" stroke-width="1.2"/>
<rect x="541.11" y="374.76" width="4.5" height="4.5" fill="none" stroke="#000" stroke-width="1.2"/>
<rect x="545.49" y="374.76" width="4.5" height="4.5" fill="none" stroke="#000" stroke-width="1.2"/>
<rect x="536.44" y="376.95" width="4.5" height="4.5" fill="none" stroke="#000" stroke-width="1.2"/>
<rect x="527.97" y="377.68" width="4.5" height="4.5" fill="none" stroke="#000" stroke-width="1.2"/>
<rect x="550.16" y="378.11" width="4.5" height="4.5" fill="none" stroke="#000" stroke-width="1.2"/>
<rect x="532.35" y="380.16" width="4.5" height="4.5" fill="none" stroke="#000" stroke-width="1.2"/>
<rect x="541.11" y="379.14" width="4.5" height="4.5" fill="none" stroke="#000" stroke-width="1.2"/>
<rect x="545.49" y="380.6" width="4.5" height="4.5" fill="none" stroke="#000" stroke-width="1.2"/>
<rect x="536.44" y="383.52" width="4.5" height="4.5" fill="none" stroke="#000" stroke-width="1.2"/>
<rect x="541.11" y="384.54" width="4.5" height="4.5" fill="none" stroke="#000" stroke-width="1.2"/>
<rect x="539.06" y="393.01" width="4.5" height="4.5" fill="none" stroke="#000" stroke-width="1.2"/>
<circle cx="595.04" cy="393.07" r="2.2" fill="none" stroke="#000" stroke-width="1.25"/>
<circle cx="597.81" cy="395.69" r="2.2" fill="none" stroke="#000" stroke-width="1.25"/>
<circle cx="592.26" cy="400.36" r="2.2" fill="none" stroke="#000" stroke-width="1.25"/>
<circle cx="597.81" cy="402.55" r="2.2" fill="none" stroke="#000" stroke-width="1.25"/>
<circle cx="595.04" cy="406.2" r="2.2" fill="none" stroke="#000" stroke-width="1.25"/>
<circle cx="600.29" cy="406.2" r="2.2" fill="none" stroke="#000" stroke-width="1.25"/>
<circle cx="589.34" cy="409.56" r="2.2" fill="none" stroke="#000" stroke-width="1.25"/>
<circle cx="592.26" cy="410.58" r="2.2" fill="none" stroke="#000" stroke-width="1.25"/>
<circle cx="597.81" cy="413.5" r="2.2" fill="none" stroke="#000" stroke-width="1.25"/>
<circle cx="592.26" cy="415.4" r="2.2" fill="none" stroke="#000" stroke-width="1.25"/>
<circle cx="600.29" cy="416.42" r="2.2" fill="none" stroke="#000" stroke-width="1.25"/>
<circle cx="595.04" cy="417.88" r="2.2" fill="none" stroke="#000" stroke-width="1.25"/>
<circle cx="603.21" cy="418.91" r="2.2" fill="none" stroke="#000" stroke-width="1.25"/>
<circle cx="584.23" cy="419.78" r="2.2" fill="none" stroke="#000" stroke-width="1.25"/>
<circle cx="597.81" cy="420.07" r="2.2" fill="none" stroke="#000" stroke-width="1.25"/>
<circle cx="579.85" cy="423.72" r="2.2" fill="none" stroke="#000" stroke-width="1.25"/>
<circle cx="584.23" cy="424.45" r="2.2" fill="none" stroke="#000" stroke-width="1.25"/>
<circle cx="589.34" cy="423.72" r="2.2" fill="none" stroke="#000" stroke-width="1.25"/>
<circle cx="595.04" cy="422.99" r="2.2" fill="none" stroke="#000" stroke-width="1.25"/>
<circle cx="600.29" cy="423.72" r="2.2" fill="none" stroke="#000" stroke-width="1.25"/>
<circle cx="605.4" cy="424.45" r="2.2" fill="none" stroke="#000" stroke-width="1.25"/>
<circle cx="610.51" cy="423.72" r="2.2" fill="none" stroke="#000" stroke-width="1.25"/>
<circle cx="582.04" cy="427.37" r="2.2" fill="none" stroke="#000" stroke-width="1.25"/>
<circle cx="587.15" cy="426.64" r="2.2" fill="none" stroke="#000" stroke-width="1.25"/>
<circle cx="592.26" cy="427.37" r="2.2" fill="none" stroke="#000" stroke-width="1.25"/>
<circle cx="597.81" cy="426.64" r="2.2" fill="none" stroke="#000" stroke-width="1.25"/>
<circle cx="603.21" cy="427.37" r="2.2" fill="none" stroke="#000" stroke-width="1.25"/>
<circle cx="608.32" cy="427.08" r="2.2" fill="none" stroke="#000" stroke-width="1.25"/>
<circle cx="579.85" cy="430.29" r="2.2" fill="none" stroke="#000" stroke-width="1.25"/>
<circle cx="584.96" cy="430" r="2.2" fill="none" stroke="#000" stroke-width="1.25"/>
<circle cx="590.07" cy="430.58" r="2.2" fill="none" stroke="#000" stroke-width="1.25"/>
<circle cx="595.04" cy="430" r="2.2" fill="none" stroke="#000" stroke-width="1.25"/>
<circle cx="600.29" cy="430.58" r="2.2" fill="none" stroke="#000" stroke-width="1.25"/>
<circle cx="605.4" cy="430" r="2.2" fill="none" stroke="#000" stroke-width="1.25"/>
<circle cx="610.51" cy="430.58" r="2.2" fill="none" stroke="#000" stroke-width="1.25"/>
<circle cx="582.77" cy="433.5" r="2.2" fill="none" stroke="#000" stroke-width="1.25"/>
<circle cx="589.34" cy="433.21" r="2.2" fill="none" stroke="#000" stroke-width="1.25"/>
<circle cx="595.04" cy="433.5" r="2.2" fill="none" stroke="#000" stroke-width="1.25"/>
<circle cx="600.29" cy="433.21" r="2.2" fill="none" stroke="#000" stroke-width="1.25"/>
<circle cx="607.59" cy="433.5" r="2.2" fill="none" stroke="#000" stroke-width="1.25"/>
<circle cx="648.46" cy="403.91" r="2.5" fill="#000"/>
<circle cx="654.63" cy="404.19" r="2.5" fill="#000"/>
<circle cx="645.14" cy="407.32" r="2.5" fill="#000"/>
<circle cx="651.59" cy="407.99" r="2.5" fill="#000"/>
<circle cx="642.3" cy="413.21" r="2.5" fill="#000"/>
<circle cx="648.46" cy="412.07" r="2.5" fill="#000"/>
<circle cx="639.26" cy="417.19" r="2.5" fill="#000"/>
<circle cx="651.59" cy="415.86" r="2.5" fill="#000"/>
<circle cx="654.63" cy="418.71" r="2.5" fill="#000"/>
<circle cx="657.95" cy="420.61" r="2.5" fill="#000"/>
<circle cx="642.3" cy="422.5" r="2.5" fill="#000"/>
<circle cx="648.46" cy="421.75" r="2.5" fill="#000"/>
<circle cx="651.59" cy="420.32" r="2.5" fill="#000"/>
<circle cx="645.14" cy="424.12" r="2.5" fill="#000"/>
<circle cx="648.46" cy="425.07" r="2.5" fill="#000"/>
<circle cx="654.63" cy="424.4" r="2.5" fill="#000"/>
<circle cx="651.59" cy="427.25" r="2.5" fill="#000"/>
<circle cx="657.95" cy="427.91" r="2.5" fill="#000"/>
<circle cx="636.13" cy="429.81" r="2.5" fill="#000"/>
<circle cx="639.26" cy="431.23" r="2.5" fill="#000"/>
<circle cx="642.3" cy="430.76" r="2.5" fill="#000"/>
<circle cx="645.14" cy="430.28" r="2.5" fill="#000"/>
<circle cx="648.46" cy="431.71" r="2.5" fill="#000"/>
<circle cx="651.59" cy="431.23" r="2.5" fill="#000"/>
<circle cx="654.63" cy="432.66" r="2.5" fill="#000"/>
<circle cx="657.95" cy="432.18" r="2.5" fill="#000"/>
<circle cx="660.8" cy="431.99" r="2.5" fill="#000"/>
<circle cx="664.12" cy="431.71" r="2.5" fill="#000"/>
<circle cx="634.23" cy="432.66" r="2.5" fill="#000"/>
<circle cx="645.14" cy="435.03" r="2.5" fill="#000"/>
<circle cx="633.28" cy="434.08" r="2.5" fill="#000"/>
</g>
<g id="panel-J">
<rect x="79.9" y="590.9" width="34.6" height="0.7" fill="#7f7f7f" stroke="#000" stroke-width="1.1"/>
<rect x="133.1" y="586.5" width="34.6" height="5.1" fill="#a1a1a1" stroke="#000" stroke-width="1.1"/>
<rect x="186.7" y="578.9" width="34.6" height="12.7" fill="#7f7f7f" stroke="#000" stroke-width="1.1"/>
<path d="M141.7 584.4H159.1M141.7 587.6H159.1M150.4 584.4V587.6" stroke="#000" stroke-width="0.7" fill="none"/>
<path d="M195.3 574.4H212.7M195.3 582.4H212.7M204 574.4V582.4" stroke="#000" stroke-width="0.7" fill="none"/>
<path d="M61.2 472.45V591.6" stroke="#000" stroke-width="1.15" fill="none"/>
<path d="M60.65 591.6H240" stroke="#000" stroke-width="1.15" fill="none"/>
<text x="55.2" y="594.8" font-size="9" text-anchor="end" font-weight="bold" font-style="normal">0</text>
<text x="55.2" y="571.08" font-size="9" text-anchor="end" font-weight="bold" font-style="normal">500</text>
<text x="55.2" y="547.36" font-size="9" text-anchor="end" font-weight="bold" font-style="normal">1000</text>
<text x="55.2" y="523.64" font-size="9" text-anchor="end" font-weight="bold" font-style="normal">1500</text>
<text x="55.2" y="499.92" font-size="9" text-anchor="end" font-weight="bold" font-style="normal">2000</text>
<text x="55.2" y="476.2" font-size="9" text-anchor="end" font-weight="bold" font-style="normal">2500</text>
<path d="M56.3 591.6H61.2M56.3 567.88H61.2M56.3 544.16H61.2M56.3 520.44H61.2M56.3 496.72H61.2M56.3 473H61.2M97.2 591.6V596.2M150.4 591.6V596.2M204 591.6V596.2" stroke="#000" stroke-width="1.15" fill="none"/>
<text x="97" y="606.1" font-size="9" text-anchor="middle" font-weight="bold" font-style="normal">Healthy</text>
<text x="150.2" y="606.1" font-size="9" text-anchor="middle" font-weight="bold" font-style="normal">DwoWS</text>
<text x="203.8" y="606.1" font-size="9" text-anchor="middle" font-weight="bold" font-style="normal">DwWS</text>
<text transform="translate(16.2 532) rotate(-90)" font-size="11.45" text-anchor="middle" font-weight="bold">Aspartate</text>
<text transform="translate(29 532) rotate(-90)" font-size="11.45" text-anchor="middle" font-weight="bold">transaminase (U/L)</text>
<text x="5" y="470" font-size="18.4" text-anchor="start" font-weight="bold" font-style="normal">J</text>
<text x="73" y="484.4" font-size="9.9" font-weight="bold">5<tspan font-size="7.1" dy="-4.1">th</tspan><tspan dy="4.1"> day</tspan></text>
<text x="73" y="495.5" font-size="9.9" text-anchor="start" font-weight="bold" font-style="normal">of fever</text>
<rect x="78.3" y="588.41" width="4.5" height="4.5" fill="none" stroke="#000" stroke-width="1.2"/>
<rect x="79.99" y="588.41" width="4.5" height="4.5" fill="none" stroke="#000" stroke-width="1.2"/>
<rect x="81.68" y="588.41" width="4.5" height="4.5" fill="none" stroke="#000" stroke-width="1.2"/>
<rect x="83.38" y="588.41" width="4.5" height="4.5" fill="none" stroke="#000" stroke-width="1.2"/>
<rect x="85.07" y="588.41" width="4.5" height="4.5" fill="none" stroke="#000" stroke-width="1.2"/>
<rect x="86.76" y="588.41" width="4.5" height="4.5" fill="none" stroke="#000" stroke-width="1.2"/>
<rect x="88.46" y="588.41" width="4.5" height="4.5" fill="none" stroke="#000" stroke-width="1.2"/>
<rect x="90.15" y="588.41" width="4.5" height="4.5" fill="none" stroke="#000" stroke-width="1.2"/>
<rect x="91.84" y="588.41" width="4.5" height="4.5" fill="none" stroke="#000" stroke-width="1.2"/>
<rect x="93.54" y="588.41" width="4.5" height="4.5" fill="none" stroke="#000" stroke-width="1.2"/>
<rect x="95.23" y="588.41" width="4.5" height="4.5" fill="none" stroke="#000" stroke-width="1.2"/>
<rect x="96.93" y="588.41" width="4.5" height="4.5" fill="none" stroke="#000" stroke-width="1.2"/>
<rect x="98.62" y="588.41" width="4.5" height="4.5" fill="none" stroke="#000" stroke-width="1.2"/>
<rect x="100.31" y="588.41" width="4.5" height="4.5" fill="none" stroke="#000" stroke-width="1.2"/>
<rect x="102.01" y="588.41" width="4.5" height="4.5" fill="none" stroke="#000" stroke-width="1.2"/>
<rect x="103.7" y="588.41" width="4.5" height="4.5" fill="none" stroke="#000" stroke-width="1.2"/>
<rect x="105.39" y="588.41" width="4.5" height="4.5" fill="none" stroke="#000" stroke-width="1.2"/>
<rect x="107.09" y="588.41" width="4.5" height="4.5" fill="none" stroke="#000" stroke-width="1.2"/>
<rect x="108.78" y="588.41" width="4.5" height="4.5" fill="none" stroke="#000" stroke-width="1.2"/>
<rect x="110.41" y="587.39" width="4.5" height="4.5" fill="none" stroke="#000" stroke-width="1.2"/>
<circle cx="150.33" cy="532.41" r="2.2" fill="none" stroke="#000" stroke-width="1.25"/>
<circle cx="150.33" cy="569.64" r="2.2" fill="none" stroke="#000" stroke-width="1.25"/>
<circle cx="150.33" cy="574.31" r="2.2" fill="none" stroke="#000" stroke-width="1.25"/>
<circle cx="150.33" cy="576.2" r="2.2" fill="none" stroke="#000" stroke-width="1.25"/>
<circle cx="150.33" cy="578.39" r="2.2" fill="none" stroke="#000" stroke-width="1.25"/>
<circle cx="150.33" cy="582.04" r="2.2" fill="none" stroke="#000" stroke-width="1.25"/>
<circle cx="150.33" cy="584.96" r="2.2" fill="none" stroke="#000" stroke-width="1.25"/>
<circle cx="135.58" cy="586.42" r="2.2" fill="none" stroke="#000" stroke-width="1.25"/>
<circle cx="154.56" cy="586.42" r="2.2" fill="none" stroke="#000" stroke-width="1.25"/>
<circle cx="164.78" cy="587.45" r="2.2" fill="none" stroke="#000" stroke-width="1.25"/>
<circle cx="134.85" cy="588.03" r="2.2" fill="none" stroke="#000" stroke-width="1.25"/>
<circle cx="138.42" cy="588.03" r="2.2" fill="none" stroke="#000" stroke-width="1.25"/>
<circle cx="141.98" cy="588.03" r="2.2" fill="none" stroke="#000" stroke-width="1.25"/>
<circle cx="145.54" cy="588.03" r="2.2" fill="none" stroke="#000" stroke-width="1.25"/>
<circle cx="149.1" cy="588.03" r="2.2" fill="none" stroke="#000" stroke-width="1.25"/>
<circle cx="152.66" cy="588.03" r="2.2" fill="none" stroke="#000" stroke-width="1.25"/>
<circle cx="156.23" cy="588.03" r="2.2" fill="none" stroke="#000" stroke-width="1.25"/>
<circle cx="159.79" cy="588.03" r="2.2" fill="none" stroke="#000" stroke-width="1.25"/>
<circle cx="163.35" cy="588.03" r="2.2" fill="none" stroke="#000" stroke-width="1.25"/>
<circle cx="166.91" cy="588.03" r="2.2" fill="none" stroke="#000" stroke-width="1.25"/>
<circle cx="134.12" cy="590.07" r="2.2" fill="none" stroke="#000" stroke-width="1.25"/>
<circle cx="137.04" cy="590.07" r="2.2" fill="none" stroke="#000" stroke-width="1.25"/>
<circle cx="139.96" cy="590.07" r="2.2" fill="none" stroke="#000" stroke-width="1.25"/>
<circle cx="142.88" cy="590.07" r="2.2" fill="none" stroke="#000" stroke-width="1.25"/>
<circle cx="145.8" cy="590.07" r="2.2" fill="none" stroke="#000" stroke-width="1.25"/>
<circle cx="148.72" cy="590.07" r="2.2" fill="none" stroke="#000" stroke-width="1.25"/>
<circle cx="151.64" cy="590.07" r="2.2" fill="none" stroke="#000" stroke-width="1.25"/>
<circle cx="154.56" cy="590.07" r="2.2" fill="none" stroke="#000" stroke-width="1.25"/>
<circle cx="157.48" cy="590.07" r="2.2" fill="none" stroke="#000" stroke-width="1.25"/>
<circle cx="160.4" cy="590.07" r="2.2" fill="none" stroke="#000" stroke-width="1.25"/>
<circle cx="163.32" cy="590.07" r="2.2" fill="none" stroke="#000" stroke-width="1.25"/>
<circle cx="166.24" cy="590.07" r="2.2" fill="none" stroke="#000" stroke-width="1.25"/>
<circle cx="136.31" cy="589.2" r="2.2" fill="none" stroke="#000" stroke-width="1.25"/>
<circle cx="140.4" cy="589.2" r="2.2" fill="none" stroke="#000" stroke-width="1.25"/>
<circle cx="144.49" cy="589.2" r="2.2" fill="none" stroke="#000" stroke-width="1.25"/>
<circle cx="148.58" cy="589.2" r="2.2" fill="none" stroke="#000" stroke-width="1.25"/>
<circle cx="152.66" cy="589.2" r="2.2" fill="none" stroke="#000" stroke-width="1.25"/>
<circle cx="156.75" cy="589.2" r="2.2" fill="none" stroke="#000" stroke-width="1.25"/>
<circle cx="160.84" cy="589.2" r="2.2" fill="none" stroke="#000" stroke-width="1.25"/>
<circle cx="164.93" cy="589.2" r="2.2" fill="none" stroke="#000" stroke-width="1.25"/>
<circle cx="203.77" cy="494.92" r="2.5" fill="#000"/>
<circle cx="202.38" cy="543.85" r="2.5" fill="#000"/>
<circle cx="205.31" cy="546.46" r="2.5" fill="#000"/>
<circle cx="203.77" cy="564.62" r="2.5" fill="#000"/>
<circle cx="205.31" cy="567.23" r="2.5" fill="#000"/>
<circle cx="202.38" cy="571.23" r="2.5" fill="#000"/>
<circle cx="203.77" cy="576.62" r="2.5" fill="#000"/>
<circle cx="203.77" cy="580" r="2.5" fill="#000"/>
<circle cx="201.15" cy="582.31" r="2.5" fill="#000"/>
<circle cx="206.54" cy="582.31" r="2.5" fill="#000"/>
<circle cx="198.08" cy="583.85" r="2.5" fill="#000"/>
<circle cx="209.62" cy="583.85" r="2.5" fill="#000"/>
<circle cx="195" cy="585.38" r="2.5" fill="#000"/>
<circle cx="212.69" cy="584.62" r="2.5" fill="#000"/>
<circle cx="191.92" cy="586.15" r="2.5" fill="#000"/>
<circle cx="190.38" cy="587.69" r="2.5" fill="#000"/>
<circle cx="216.54" cy="586.92" r="2.5" fill="#000"/>
<circle cx="188.08" cy="588.46" r="2.5" fill="#000"/>
<circle cx="218.85" cy="588.92" r="2.5" fill="#000"/>
<circle cx="201.15" cy="586.15" r="2.5" fill="#000"/>
<circle cx="206.54" cy="586.15" r="2.5" fill="#000"/>
<circle cx="203.77" cy="584.62" r="2.5" fill="#000"/>
<circle cx="198.85" cy="590.31" r="2.5" fill="#000"/>
<circle cx="195.77" cy="587.69" r="2.5" fill="#000"/>
<circle cx="211.15" cy="587.69" r="2.5" fill="#000"/>
<circle cx="203.77" cy="588.46" r="2.5" fill="#000"/>
<circle cx="208.08" cy="589.23" r="2.5" fill="#000"/>
<circle cx="193.46" cy="589.23" r="2.5" fill="#000"/>
<circle cx="214.23" cy="588.92" r="2.5" fill="#000"/>
<circle cx="201.92" cy="588.46" r="2.5" fill="#000"/>
</g>
<g id="panel-K">
<rect x="299" y="588.1" width="34.6" height="3.4" fill="#7f7f7f" stroke="#000" stroke-width="1.1"/>
<rect x="352.7" y="583.5" width="34.6" height="8" fill="#a1a1a1" stroke="#000" stroke-width="1.1"/>
<rect x="406.1" y="567.1" width="34.6" height="24.4" fill="#7f7f7f" stroke="#000" stroke-width="1.1"/>
<path d="M307.6 586.6H325M307.6 588.6H325M316.3 586.6V588.6" stroke="#000" stroke-width="0.7" fill="none"/>
<path d="M361.3 580.4H378.7M361.3 585.6H378.7M370 580.4V585.6" stroke="#000" stroke-width="0.7" fill="none"/>
<path d="M414.7 558.4H432.1M414.7 574.8H432.1M423.4 558.4V574.8" stroke="#000" stroke-width="0.7" fill="none"/>
<path d="M280.5 472.45V527.5M280.5 536.6V591.5" stroke="#000" stroke-width="1.15" fill="none"/>
<path d="M277.5 525.9L283.5 531.3" stroke="#000" stroke-width="1.15" fill="none"/>
<path d="M277.5 533.9L283.5 539.3" stroke="#000" stroke-width="1.15" fill="none"/>
<path d="M279.95 591.5H459" stroke="#000" stroke-width="1.15" fill="none"/>
<text x="274.5" y="594.8" font-size="9" text-anchor="end" font-weight="bold" font-style="normal">0</text>
<text x="274.5" y="583.8" font-size="9" text-anchor="end" font-weight="bold" font-style="normal">100</text>
<text x="274.5" y="572.8" font-size="9" text-anchor="end" font-weight="bold" font-style="normal">200</text>
<text x="274.5" y="561.8" font-size="9" text-anchor="end" font-weight="bold" font-style="normal">300</text>
<text x="274.5" y="550.8" font-size="9" text-anchor="end" font-weight="bold" font-style="normal">400</text>
<text x="274.5" y="539.8" font-size="9" text-anchor="end" font-weight="bold" font-style="normal">500</text>
<text x="274.5" y="519.8" font-size="9" text-anchor="end" font-weight="bold" font-style="normal">1000</text>
<text x="274.5" y="505.27" font-size="9" text-anchor="end" font-weight="bold" font-style="normal">1500</text>
<text x="274.5" y="490.73" font-size="9" text-anchor="end" font-weight="bold" font-style="normal">2000</text>
<text x="274.5" y="476.2" font-size="9" text-anchor="end" font-weight="bold" font-style="normal">2500</text>
<path d="M275.6 591.6H280.5M275.6 580.6H280.5M275.6 569.6H280.5M275.6 558.6H280.5M275.6 547.6H280.5M275.6 516.6H280.5M275.6 502.07H280.5M275.6 487.53H280.5M275.6 473H280.5M316.3 591.5V596.1M370 591.5V596.1M423.4 591.5V596.1" stroke="#000" stroke-width="1.15" fill="none"/>
<text x="316.1" y="606" font-size="9" text-anchor="middle" font-weight="bold" font-style="normal">Healthy</text>
<text x="369.8" y="606" font-size="9" text-anchor="middle" font-weight="bold" font-style="normal">DwoWS</text>
<text x="423.2" y="606" font-size="9" text-anchor="middle" font-weight="bold" font-style="normal">DwWS</text>
<text transform="translate(235.3 532) rotate(-90)" font-size="12.3" text-anchor="middle" font-weight="normal">Alanine</text>
<text transform="translate(248.2 532) rotate(-90)" font-size="12.3" text-anchor="middle" font-weight="normal">transaminase (U/L)</text>
<text x="237.4" y="469.4" font-size="18.4" text-anchor="start" font-weight="bold" font-style="normal">K</text>
<text x="292.6" y="484.4" font-size="9.9" font-weight="bold">5<tspan font-size="7.1" dy="-4.1">th</tspan><tspan dy="4.1"> day</tspan></text>
<text x="292.6" y="495.5" font-size="9.9" text-anchor="start" font-weight="bold" font-style="normal">of fever</text>
<text x="289" y="534.7" font-size="9" font-weight="normal" font-style="italic" fill="#111" stroke="#111" stroke-width="0.15" style="white-space:pre">#,  &lt; 0.05</text>
<text x="289" y="544.3" font-size="9" font-weight="normal" font-style="italic" fill="#111" stroke="#111" stroke-width="0.15" style="white-space:pre">vs. healthy</text>
<text x="423.4" y="484.7" font-size="10.3" text-anchor="middle" font-weight="normal" font-style="normal" stroke="#000" stroke-width="0.15">#</text>
<rect x="298.7" y="587.46" width="4.5" height="4.5" fill="none" stroke="#000" stroke-width="1.2"/>
<rect x="301.11" y="587.46" width="4.5" height="4.5" fill="none" stroke="#000" stroke-width="1.2"/>
<rect x="303.52" y="587.46" width="4.5" height="4.5" fill="none" stroke="#000" stroke-width="1.2"/>
<rect x="305.93" y="587.46" width="4.5" height="4.5" fill="none" stroke="#000" stroke-width="1.2"/>
<rect x="308.33" y="587.46" width="4.5" height="4.5" fill="none" stroke="#000" stroke-width="1.2"/>
<rect x="310.74" y="587.46" width="4.5" height="4.5" fill="none" stroke="#000" stroke-width="1.2"/>
<rect x="313.15" y="587.46" width="4.5" height="4.5" fill="none" stroke="#000" stroke-width="1.2"/>
<rect x="315.56" y="587.46" width="4.5" height="4.5" fill="none" stroke="#000" stroke-width="1.2"/>
<rect x="317.97" y="587.46" width="4.5" height="4.5" fill="none" stroke="#000" stroke-width="1.2"/>
<rect x="320.38" y="587.46" width="4.5" height="4.5" fill="none" stroke="#000" stroke-width="1.2"/>
<rect x="322.79" y="587.46" width="4.5" height="4.5" fill="none" stroke="#000" stroke-width="1.2"/>
<rect x="325.2" y="587.46" width="4.5" height="4.5" fill="none" stroke="#000" stroke-width="1.2"/>
<rect x="327.6" y="587.46" width="4.5" height="4.5" fill="none" stroke="#000" stroke-width="1.2"/>
<rect x="330.01" y="587.46" width="4.5" height="4.5" fill="none" stroke="#000" stroke-width="1.2"/>
<rect x="302.35" y="586" width="4.5" height="4.5" fill="none" stroke="#000" stroke-width="1.2"/>
<rect x="308.19" y="586" width="4.5" height="4.5" fill="none" stroke="#000" stroke-width="1.2"/>
<rect x="314.03" y="586" width="4.5" height="4.5" fill="none" stroke="#000" stroke-width="1.2"/>
<rect x="319.87" y="586" width="4.5" height="4.5" fill="none" stroke="#000" stroke-width="1.2"/>
<rect x="325.71" y="586" width="4.5" height="4.5" fill="none" stroke="#000" stroke-width="1.2"/>
<rect x="314.03" y="582.93" width="4.5" height="4.5" fill="none" stroke="#000" stroke-width="1.2"/>
<rect x="300.16" y="584.68" width="4.5" height="4.5" fill="none" stroke="#000" stroke-width="1.2"/>
<circle cx="370" cy="526.35" r="2.2" fill="none" stroke="#000" stroke-width="1.25"/>
<circle cx="370" cy="550.15" r="2.2" fill="none" stroke="#000" stroke-width="1.25"/>
<circle cx="369.56" cy="564.01" r="2.2" fill="none" stroke="#000" stroke-width="1.25"/>
<circle cx="370.58" cy="563.72" r="2.2" fill="none" stroke="#000" stroke-width="1.25"/>
<circle cx="370" cy="571.31" r="2.2" fill="none" stroke="#000" stroke-width="1.25"/>
<circle cx="368.83" cy="576.42" r="2.2" fill="none" stroke="#000" stroke-width="1.25"/>
<circle cx="370.58" cy="578.32" r="2.2" fill="none" stroke="#000" stroke-width="1.25"/>
<circle cx="370" cy="581.53" r="2.2" fill="none" stroke="#000" stroke-width="1.25"/>
<circle cx="370" cy="582.99" r="2.2" fill="none" stroke="#000" stroke-width="1.25"/>
<circle cx="354.23" cy="585.33" r="2.2" fill="none" stroke="#000" stroke-width="1.25"/>
<circle cx="357.64" cy="585.33" r="2.2" fill="none" stroke="#000" stroke-width="1.25"/>
<circle cx="361.04" cy="585.33" r="2.2" fill="none" stroke="#000" stroke-width="1.25"/>
<circle cx="364.44" cy="585.33" r="2.2" fill="none" stroke="#000" stroke-width="1.25"/>
<circle cx="367.84" cy="585.33" r="2.2" fill="none" stroke="#000" stroke-width="1.25"/>
<circle cx="371.24" cy="585.33" r="2.2" fill="none" stroke="#000" stroke-width="1.25"/>
<circle cx="374.64" cy="585.33" r="2.2" fill="none" stroke="#000" stroke-width="1.25"/>
<circle cx="378.04" cy="585.33" r="2.2" fill="none" stroke="#000" stroke-width="1.25"/>
<circle cx="381.45" cy="585.33" r="2.2" fill="none" stroke="#000" stroke-width="1.25"/>
<circle cx="384.85" cy="585.33" r="2.2" fill="none" stroke="#000" stroke-width="1.25"/>
<circle cx="353.5" cy="587.52" r="2.2" fill="none" stroke="#000" stroke-width="1.25"/>
<circle cx="356.72" cy="587.52" r="2.2" fill="none" stroke="#000" stroke-width="1.25"/>
<circle cx="359.93" cy="587.52" r="2.2" fill="none" stroke="#000" stroke-width="1.25"/>
<circle cx="363.14" cy="587.52" r="2.2" fill="none" stroke="#000" stroke-width="1.25"/>
<circle cx="366.35" cy="587.52" r="2.2" fill="none" stroke="#000" stroke-width="1.25"/>
<circle cx="369.56" cy="587.52" r="2.2" fill="none" stroke="#000" stroke-width="1.25"/>
<circle cx="372.77" cy="587.52" r="2.2" fill="none" stroke="#000" stroke-width="1.25"/>
<circle cx="375.99" cy="587.52" r="2.2" fill="none" stroke="#000" stroke-width="1.25"/>
<circle cx="379.2" cy="587.52" r="2.2" fill="none" stroke="#000" stroke-width="1.25"/>
<circle cx="382.41" cy="587.52" r="2.2" fill="none" stroke="#000" stroke-width="1.25"/>
<circle cx="385.62" cy="587.52" r="2.2" fill="none" stroke="#000" stroke-width="1.25"/>
<circle cx="354.96" cy="589.71" r="2.2" fill="none" stroke="#000" stroke-width="1.25"/>
<circle cx="358.2" cy="589.71" r="2.2" fill="none" stroke="#000" stroke-width="1.25"/>
<circle cx="361.45" cy="589.71" r="2.2" fill="none" stroke="#000" stroke-width="1.25"/>
<circle cx="364.69" cy="589.71" r="2.2" fill="none" stroke="#000" stroke-width="1.25"/>
<circle cx="367.93" cy="589.71" r="2.2" fill="none" stroke="#000" stroke-width="1.25"/>
<circle cx="371.17" cy="589.71" r="2.2" fill="none" stroke="#000" stroke-width="1.25"/>
<circle cx="374.41" cy="589.71" r="2.2" fill="none" stroke="#000" stroke-width="1.25"/>
<circle cx="377.65" cy="589.71" r="2.2" fill="none" stroke="#000" stroke-width="1.25"/>
<circle cx="380.89" cy="589.71" r="2.2" fill="none" stroke="#000" stroke-width="1.25"/>
<circle cx="384.13" cy="589.71" r="2.2" fill="none" stroke="#000" stroke-width="1.25"/>
<circle cx="423.4" cy="490.87" r="2.5" fill="#000"/>
<circle cx="423.4" cy="510.57" r="2.5" fill="#000"/>
<circle cx="423.4" cy="538.95" r="2.5" fill="#000"/>
<circle cx="421.39" cy="549.47" r="2.5" fill="#000"/>
<circle cx="425.07" cy="549.47" r="2.5" fill="#000"/>
<circle cx="423.4" cy="557.31" r="2.5" fill="#000"/>
<circle cx="423.4" cy="566.83" r="2.5" fill="#000"/>
<circle cx="410.88" cy="573.01" r="2.5" fill="#000"/>
<circle cx="413.38" cy="574.34" r="2.5" fill="#000"/>
<circle cx="415.88" cy="575.51" r="2.5" fill="#000"/>
<circle cx="418.39" cy="576.51" r="2.5" fill="#000"/>
<circle cx="420.89" cy="577.18" r="2.5" fill="#000"/>
<circle cx="423.4" cy="576.84" r="2.5" fill="#000"/>
<circle cx="425.9" cy="576.51" r="2.5" fill="#000"/>
<circle cx="428.41" cy="576.01" r="2.5" fill="#000"/>
<circle cx="430.91" cy="575.18" r="2.5" fill="#000"/>
<circle cx="433.41" cy="574.34" r="2.5" fill="#000"/>
<circle cx="435.92" cy="573.51" r="2.5" fill="#000"/>
<circle cx="423.4" cy="583.52" r="2.5" fill="#000"/>
<circle cx="429.24" cy="582.19" r="2.5" fill="#000"/>
<circle cx="435.08" cy="583.52" r="2.5" fill="#000"/>
<circle cx="408.37" cy="585.19" r="2.5" fill="#000"/>
<circle cx="410.88" cy="586.03" r="2.5" fill="#000"/>
<circle cx="414.22" cy="585.53" r="2.5" fill="#000"/>
<circle cx="417.55" cy="585.19" r="2.5" fill="#000"/>
<circle cx="420.89" cy="584.86" r="2.5" fill="#000"/>
<circle cx="426.74" cy="585.19" r="2.5" fill="#000"/>
<circle cx="431.74" cy="586.03" r="2.5" fill="#000"/>
<circle cx="437.59" cy="585.19" r="2.5" fill="#000"/>
<circle cx="423.4" cy="589.37" r="2.5" fill="#000"/>
<circle cx="435.08" cy="588.86" r="2.5" fill="#000"/>
</g>
<g id="panel-L">
<rect x="577.8" y="583.5" width="34.4" height="7.9" fill="#a1a1a1" stroke="#000" stroke-width="1.1"/>
<rect x="631.4" y="577.5" width="34.4" height="13.9" fill="#7f7f7f" stroke="#000" stroke-width="1.1"/>
<path d="M586.3 580.4H603.7M586.3 585.6H603.7M595 580.4V585.6" stroke="#000" stroke-width="0.7" fill="none"/>
<path d="M639.9 571.4H657.3M639.9 582.4H657.3M648.6 571.4V582.4" stroke="#000" stroke-width="0.7" fill="none"/>
<path d="M506.1 472.45V591.4" stroke="#000" stroke-width="1.15" fill="none"/>
<path d="M505.55 591.4H685" stroke="#000" stroke-width="1.15" fill="none"/>
<text x="500.1" y="594.6" font-size="9" text-anchor="end" font-weight="bold" font-style="normal">0</text>
<text x="500.1" y="570.92" font-size="9" text-anchor="end" font-weight="bold" font-style="normal">100</text>
<text x="500.1" y="547.24" font-size="9" text-anchor="end" font-weight="bold" font-style="normal">200</text>
<text x="500.1" y="523.56" font-size="9" text-anchor="end" font-weight="bold" font-style="normal">300</text>
<text x="500.1" y="499.88" font-size="9" text-anchor="end" font-weight="bold" font-style="normal">400</text>
<text x="500.1" y="476.2" font-size="9" text-anchor="end" font-weight="bold" font-style="normal">500</text>
<path d="M501.2 591.4H506.1M501.2 567.72H506.1M501.2 544.04H506.1M501.2 520.36H506.1M501.2 496.68H506.1M501.2 473H506.1M541.3 591.4V596M595 591.4V596M648.6 591.4V596" stroke="#000" stroke-width="1.15" fill="none"/>
<text x="541.1" y="605.9" font-size="9" text-anchor="middle" font-weight="bold" font-style="normal">Healthy</text>
<text x="594.8" y="605.9" font-size="9" text-anchor="middle" font-weight="bold" font-style="normal">DwoWS</text>
<text x="648.4" y="605.9" font-size="9" text-anchor="middle" font-weight="bold" font-style="normal">DwWS</text>
<text transform="translate(478.4 532) rotate(-90)" font-size="11.45" text-anchor="middle" font-weight="bold">Serum IFN-α (pg/mL)</text>
<text x="450.8" y="469.4" font-size="18.4" text-anchor="start" font-weight="bold" font-style="normal">L</text>
<text x="517.6" y="484.4" font-size="9.9" font-weight="bold">5<tspan font-size="7.1" dy="-4.1">th</tspan><tspan dy="4.1"> day</tspan></text>
<text x="517.6" y="495.5" font-size="9.9" text-anchor="start" font-weight="bold" font-style="normal">of fever</text>
<text x="518.6" y="520.3" font-size="9" font-weight="normal" font-style="italic" fill="#111" stroke="#111" stroke-width="0.15" style="white-space:pre">#,  &lt; 0.05</text>
<text x="518.6" y="530.3" font-size="9" font-weight="normal" font-style="italic" fill="#111" stroke="#111" stroke-width="0.15" style="white-space:pre">vs. healthy</text>
<text x="595" y="530.7" font-size="10.3" text-anchor="middle" font-weight="normal" font-style="normal" stroke="#000" stroke-width="0.15">#</text>
<text x="648.4" y="477.1" font-size="10.3" text-anchor="middle" font-weight="normal" font-style="normal" stroke="#000" stroke-width="0.15">#</text>
<rect x="523.01" y="589.28" width="4.5" height="4.5" fill="none" stroke="#000" stroke-width="1.2"/>
<rect x="524.91" y="589.28" width="4.5" height="4.5" fill="none" stroke="#000" stroke-width="1.2"/>
<rect x="526.82" y="589.28" width="4.5" height="4.5" fill="none" stroke="#000" stroke-width="1.2"/>
<rect x="528.73" y="589.28" width="4.5" height="4.5" fill="none" stroke="#000" stroke-width="1.2"/>
<rect x="530.63" y="589.28" width="4.5" height="4.5" fill="none" stroke="#000" stroke-width="1.2"/>
<rect x="532.54" y="589.28" width="4.5" height="4.5" fill="none" stroke="#000" stroke-width="1.2"/>
<rect x="534.44" y="589.28" width="4.5" height="4.5" fill="none" stroke="#000" stroke-width="1.2"/>
<rect x="536.35" y="589.28" width="4.5" height="4.5" fill="none" stroke="#000" stroke-width="1.2"/>
<rect x="538.26" y="589.28" width="4.5" height="4.5" fill="none" stroke="#000" stroke-width="1.2"/>
<rect x="540.16" y="589.28" width="4.5" height="4.5" fill="none" stroke="#000" stroke-width="1.2"/>
<rect x="542.07" y="589.28" width="4.5" height="4.5" fill="none" stroke="#000" stroke-width="1.2"/>
<rect x="543.98" y="589.28" width="4.5" height="4.5" fill="none" stroke="#000" stroke-width="1.2"/>
<rect x="545.88" y="589.28" width="4.5" height="4.5" fill="none" stroke="#000" stroke-width="1.2"/>
<rect x="547.79" y="589.28" width="4.5" height="4.5" fill="none" stroke="#000" stroke-width="1.2"/>
<rect x="549.7" y="589.28" width="4.5" height="4.5" fill="none" stroke="#000" stroke-width="1.2"/>
<rect x="551.6" y="589.28" width="4.5" height="4.5" fill="none" stroke="#000" stroke-width="1.2"/>
<rect x="553.51" y="589.28" width="4.5" height="4.5" fill="none" stroke="#000" stroke-width="1.2"/>
<rect x="555.42" y="589.28" width="4.5" height="4.5" fill="none" stroke="#000" stroke-width="1.2"/>
<circle cx="595.04" cy="539.27" r="2.2" fill="none" stroke="#000" stroke-width="1.25"/>
<circle cx="595.04" cy="548.03" r="2.2" fill="none" stroke="#000" stroke-width="1.25"/>
<circle cx="595.04" cy="549.49" r="2.2" fill="none" stroke="#000" stroke-width="1.25"/>
<circle cx="595.04" cy="554.31" r="2.2" fill="none" stroke="#000" stroke-width="1.25"/>
<circle cx="595.04" cy="560.58" r="2.2" fill="none" stroke="#000" stroke-width="1.25"/>
<circle cx="595.04" cy="570.36" r="2.2" fill="none" stroke="#000" stroke-width="1.25"/>
<circle cx="592.26" cy="575.47" r="2.2" fill="none" stroke="#000" stroke-width="1.25"/>
<circle cx="595.04" cy="576.2" r="2.2" fill="none" stroke="#000" stroke-width="1.25"/>
<circle cx="597.81" cy="576.93" r="2.2" fill="none" stroke="#000" stroke-width="1.25"/>
<circle cx="592.99" cy="578.39" r="2.2" fill="none" stroke="#000" stroke-width="1.25"/>
<circle cx="597.08" cy="579.12" r="2.2" fill="none" stroke="#000" stroke-width="1.25"/>
<circle cx="595.04" cy="580.58" r="2.2" fill="none" stroke="#000" stroke-width="1.25"/>
<circle cx="592.99" cy="582.04" r="2.2" fill="none" stroke="#000" stroke-width="1.25"/>
<circle cx="597.08" cy="582.48" r="2.2" fill="none" stroke="#000" stroke-width="1.25"/>
<circle cx="595.04" cy="584.23" r="2.2" fill="none" stroke="#000" stroke-width="1.25"/>
<circle cx="593.72" cy="586.42" r="2.2" fill="none" stroke="#000" stroke-width="1.25"/>
<circle cx="604.67" cy="587.15" r="2.2" fill="none" stroke="#000" stroke-width="1.25"/>
<circle cx="579.12" cy="591.53" r="2.2" fill="none" stroke="#000" stroke-width="1.25"/>
<circle cx="581.27" cy="591.53" r="2.2" fill="none" stroke="#000" stroke-width="1.25"/>
<circle cx="583.42" cy="591.53" r="2.2" fill="none" stroke="#000" stroke-width="1.25"/>
<circle cx="585.56" cy="591.53" r="2.2" fill="none" stroke="#000" stroke-width="1.25"/>
<circle cx="587.71" cy="591.53" r="2.2" fill="none" stroke="#000" stroke-width="1.25"/>
<circle cx="589.85" cy="591.53" r="2.2" fill="none" stroke="#000" stroke-width="1.25"/>
<circle cx="592" cy="591.53" r="2.2" fill="none" stroke="#000" stroke-width="1.25"/>
<circle cx="594.15" cy="591.53" r="2.2" fill="none" stroke="#000" stroke-width="1.25"/>
<circle cx="596.29" cy="591.53" r="2.2" fill="none" stroke="#000" stroke-width="1.25"/>
<circle cx="598.44" cy="591.53" r="2.2" fill="none" stroke="#000" stroke-width="1.25"/>
<circle cx="600.58" cy="591.53" r="2.2" fill="none" stroke="#000" stroke-width="1.25"/>
<circle cx="602.73" cy="591.53" r="2.2" fill="none" stroke="#000" stroke-width="1.25"/>
<circle cx="604.88" cy="591.53" r="2.2" fill="none" stroke="#000" stroke-width="1.25"/>
<circle cx="607.02" cy="591.53" r="2.2" fill="none" stroke="#000" stroke-width="1.25"/>
<circle cx="609.17" cy="591.53" r="2.2" fill="none" stroke="#000" stroke-width="1.25"/>
<circle cx="611.31" cy="591.53" r="2.2" fill="none" stroke="#000" stroke-width="1.25"/>
<circle cx="580.15" cy="591.09" r="2.2" fill="none" stroke="#000" stroke-width="1.25"/>
<circle cx="582.29" cy="591.09" r="2.2" fill="none" stroke="#000" stroke-width="1.25"/>
<circle cx="584.44" cy="591.09" r="2.2" fill="none" stroke="#000" stroke-width="1.25"/>
<circle cx="586.58" cy="591.09" r="2.2" fill="none" stroke="#000" stroke-width="1.25"/>
<circle cx="588.73" cy="591.09" r="2.2" fill="none" stroke="#000" stroke-width="1.25"/>
<circle cx="590.88" cy="591.09" r="2.2" fill="none" stroke="#000" stroke-width="1.25"/>
<circle cx="593.02" cy="591.09" r="2.2" fill="none" stroke="#000" stroke-width="1.25"/>
<circle cx="595.17" cy="591.09" r="2.2" fill="none" stroke="#000" stroke-width="1.25"/>
<circle cx="597.31" cy="591.09" r="2.2" fill="none" stroke="#000" stroke-width="1.25"/>
<circle cx="599.46" cy="591.09" r="2.2" fill="none" stroke="#000" stroke-width="1.25"/>
<circle cx="601.61" cy="591.09" r="2.2" fill="none" stroke="#000" stroke-width="1.25"/>
<circle cx="603.75" cy="591.09" r="2.2" fill="none" stroke="#000" stroke-width="1.25"/>
<circle cx="605.9" cy="591.09" r="2.2" fill="none" stroke="#000" stroke-width="1.25"/>
<circle cx="608.04" cy="591.09" r="2.2" fill="none" stroke="#000" stroke-width="1.25"/>
<circle cx="610.19" cy="591.09" r="2.2" fill="none" stroke="#000" stroke-width="1.25"/>
<circle cx="647.76" cy="482.67" r="2.5" fill="#000"/>
<circle cx="649.15" cy="486.13" r="2.5" fill="#000"/>
<circle cx="648.45" cy="494.79" r="2.5" fill="#000"/>
<circle cx="648.45" cy="550.4" r="2.5" fill="#000"/>
<circle cx="649.84" cy="568.07" r="2.5" fill="#000"/>
<circle cx="647.24" cy="569.45" r="2.5" fill="#000"/>
<circle cx="648.45" cy="574.48" r="2.5" fill="#000"/>
<circle cx="648.45" cy="586.25" r="2.5" fill="#000"/>
<circle cx="633.38" cy="590.58" r="2.5" fill="#000"/>
<circle cx="635.98" cy="589.37" r="2.5" fill="#000"/>
<circle cx="639.45" cy="590.58" r="2.5" fill="#000"/>
<circle cx="642.91" cy="590.58" r="2.5" fill="#000"/>
<circle cx="645.51" cy="591.1" r="2.5" fill="#000"/>
<circle cx="648.45" cy="591.1" r="2.5" fill="#000"/>
<circle cx="651.57" cy="591.1" r="2.5" fill="#000"/>
<circle cx="654.17" cy="590.06" r="2.5" fill="#000"/>
<circle cx="656.77" cy="589.37" r="2.5" fill="#000"/>
<circle cx="659.37" cy="588.85" r="2.5" fill="#000"/>
<circle cx="661.97" cy="590.06" r="2.5" fill="#000"/>
<circle cx="663.7" cy="591.1" r="2.5" fill="#000"/>
<circle cx="634.25" cy="590.93" r="2.5" fill="#000"/>
<circle cx="637.37" cy="590.93" r="2.5" fill="#000"/>
<circle cx="640.49" cy="590.93" r="2.5" fill="#000"/>
<circle cx="643.6" cy="590.93" r="2.5" fill="#000"/>
<circle cx="646.72" cy="590.93" r="2.5" fill="#000"/>
<circle cx="649.84" cy="590.93" r="2.5" fill="#000"/>
<circle cx="652.96" cy="590.93" r="2.5" fill="#000"/>
<circle cx="656.08" cy="590.93" r="2.5" fill="#000"/>
<circle cx="659.19" cy="590.93" r="2.5" fill="#000"/>
<circle cx="662.31" cy="590.93" r="2.5" fill="#000"/>
</g>
<g id="panel-M">
<rect x="184.8" y="743.1" width="34.2" height="7.3" fill="#7f7f7f" stroke="#000" stroke-width="1.1"/>
<rect x="238.3" y="733.1" width="34.2" height="17.3" fill="#a1a1a1" stroke="#000" stroke-width="1.1"/>
<rect x="291.8" y="725.1" width="34.2" height="25.3" fill="#7f7f7f" stroke="#000" stroke-width="1.1"/>
<path d="M193.2 740H210.6M193.2 745.2H210.6M201.9 740V745.2" stroke="#000" stroke-width="0.7" fill="none"/>
<path d="M246.7 730H264.1M246.7 735.2H264.1M255.4 730V735.2" stroke="#000" stroke-width="0.7" fill="none"/>
<path d="M300.2 721H317.6M300.2 728.2H317.6M308.9 721V728.2" stroke="#000" stroke-width="0.7" fill="none"/>
<path d="M166.3 631.05V750.4" stroke="#000" stroke-width="1.15" fill="none"/>
<path d="M165.75 750.4H345" stroke="#000" stroke-width="1.15" fill="none"/>
<text x="160.3" y="753.6" font-size="9" text-anchor="end" font-weight="bold" font-style="normal">0</text>
<text x="160.3" y="729.84" font-size="9" text-anchor="end" font-weight="bold" font-style="normal">20</text>
<text x="160.3" y="706.08" font-size="9" text-anchor="end" font-weight="bold" font-style="normal">40</text>
<text x="160.3" y="682.32" font-size="9" text-anchor="end" font-weight="bold" font-style="normal">60</text>
<text x="160.3" y="658.56" font-size="9" text-anchor="end" font-weight="bold" font-style="normal">80</text>
<text x="160.3" y="634.8" font-size="9" text-anchor="end" font-weight="bold" font-style="normal">100</text>
<path d="M161.4 750.4H166.3M161.4 726.64H166.3M161.4 702.88H166.3M161.4 679.12H166.3M161.4 655.36H166.3M161.4 631.6H166.3M201.9 750.4V755M255.4 750.4V755M308.9 750.4V755" stroke="#000" stroke-width="1.15" fill="none"/>
<text x="201.7" y="764.9" font-size="9" text-anchor="middle" font-weight="bold" font-style="normal">Healthy</text>
<text x="255.2" y="764.9" font-size="9" text-anchor="middle" font-weight="bold" font-style="normal">DwoWS</text>
<text x="308.7" y="764.9" font-size="9" text-anchor="middle" font-weight="bold" font-style="normal">DwWS</text>
<text transform="translate(138.3 691) rotate(-90)" font-size="11.45" text-anchor="middle" font-weight="bold">Serum TNF-α (pg/mL)</text>
<text x="107.4" y="634" font-size="18.4" text-anchor="start" font-weight="bold" font-style="normal">M</text>
<text x="178" y="643.4" font-size="9.9" font-weight="bold">5<tspan font-size="7.1" dy="-4.1">th</tspan><tspan dy="4.1"> day</tspan></text>
<text x="178" y="654.5" font-size="9.9" text-anchor="start" font-weight="bold" font-style="normal">of fever</text>
<text x="179" y="680.3" font-size="9" font-weight="normal" font-style="italic" fill="#111" stroke="#111" stroke-width="0.15" style="white-space:pre">#,  &lt; 0.05</text>
<text x="179" y="690.3" font-size="9" font-weight="normal" font-style="italic" fill="#111" stroke="#111" stroke-width="0.15" style="white-space:pre">vs. healthy</text>
<text x="309" y="669.3" font-size="10.3" text-anchor="middle" font-weight="normal" font-style="normal" stroke="#000" stroke-width="0.15">#</text>
<rect x="206.95" y="723.84" width="4.5" height="4.5" fill="none" stroke="#000" stroke-width="1.2"/>
<rect x="201.11" y="724.57" width="4.5" height="4.5" fill="none" stroke="#000" stroke-width="1.2"/>
<rect x="204.03" y="726.76" width="4.5" height="4.5" fill="none" stroke="#000" stroke-width="1.2"/>
<rect x="196" y="727.93" width="4.5" height="4.5" fill="none" stroke="#000" stroke-width="1.2"/>
<rect x="199.36" y="728.22" width="4.5" height="4.5" fill="none" stroke="#000" stroke-width="1.2"/>
<rect x="200.38" y="731.87" width="4.5" height="4.5" fill="none" stroke="#000" stroke-width="1.2"/>
<rect x="198.19" y="734.79" width="4.5" height="4.5" fill="none" stroke="#000" stroke-width="1.2"/>
<rect x="186.51" y="744.28" width="4.5" height="4.5" fill="none" stroke="#000" stroke-width="1.2"/>
<rect x="190.16" y="745.01" width="4.5" height="4.5" fill="none" stroke="#000" stroke-width="1.2"/>
<rect x="198.19" y="744.28" width="4.5" height="4.5" fill="none" stroke="#000" stroke-width="1.2"/>
<rect x="184.32" y="748.66" width="4.5" height="4.5" fill="none" stroke="#000" stroke-width="1.2"/>
<rect x="195.27" y="748.66" width="4.5" height="4.5" fill="none" stroke="#000" stroke-width="1.2"/>
<rect x="199.65" y="748.66" width="4.5" height="4.5" fill="none" stroke="#000" stroke-width="1.2"/>
<rect x="202.86" y="748.66" width="4.5" height="4.5" fill="none" stroke="#000" stroke-width="1.2"/>
<rect x="206.07" y="748.66" width="4.5" height="4.5" fill="none" stroke="#000" stroke-width="1.2"/>
<rect x="209.28" y="748.66" width="4.5" height="4.5" fill="none" stroke="#000" stroke-width="1.2"/>
<rect x="212.49" y="748.66" width="4.5" height="4.5" fill="none" stroke="#000" stroke-width="1.2"/>
<rect x="215.71" y="748.66" width="4.5" height="4.5" fill="none" stroke="#000" stroke-width="1.2"/>
<rect x="187.97" y="746.47" width="4.5" height="4.5" fill="none" stroke="#000" stroke-width="1.2"/>
<rect x="192.35" y="747.2" width="4.5" height="4.5" fill="none" stroke="#000" stroke-width="1.2"/>
<circle cx="255.33" cy="685.95" r="2.2" fill="none" stroke="#000" stroke-width="1.25"/>
<circle cx="255.33" cy="701.28" r="2.2" fill="none" stroke="#000" stroke-width="1.25"/>
<circle cx="253.72" cy="704.2" r="2.2" fill="none" stroke="#000" stroke-width="1.25"/>
<circle cx="257.08" cy="705.66" r="2.2" fill="none" stroke="#000" stroke-width="1.25"/>
<circle cx="251.53" cy="718.07" r="2.2" fill="none" stroke="#000" stroke-width="1.25"/>
<circle cx="258.83" cy="717.34" r="2.2" fill="none" stroke="#000" stroke-width="1.25"/>
<circle cx="255.33" cy="719.53" r="2.2" fill="none" stroke="#000" stroke-width="1.25"/>
<circle cx="252.99" cy="725.36" r="2.2" fill="none" stroke="#000" stroke-width="1.25"/>
<circle cx="257.37" cy="725.36" r="2.2" fill="none" stroke="#000" stroke-width="1.25"/>
<circle cx="260.29" cy="725.36" r="2.2" fill="none" stroke="#000" stroke-width="1.25"/>
<circle cx="250.8" cy="730.18" r="2.2" fill="none" stroke="#000" stroke-width="1.25"/>
<circle cx="255.33" cy="730.47" r="2.2" fill="none" stroke="#000" stroke-width="1.25"/>
<circle cx="258.83" cy="730.77" r="2.2" fill="none" stroke="#000" stroke-width="1.25"/>
<circle cx="255.33" cy="733.39" r="2.2" fill="none" stroke="#000" stroke-width="1.25"/>
<circle cx="255.33" cy="737.77" r="2.2" fill="none" stroke="#000" stroke-width="1.25"/>
<circle cx="244.23" cy="740.69" r="2.2" fill="none" stroke="#000" stroke-width="1.25"/>
<circle cx="266.13" cy="739.23" r="2.2" fill="none" stroke="#000" stroke-width="1.25"/>
<circle cx="248.61" cy="741.42" r="2.2" fill="none" stroke="#000" stroke-width="1.25"/>
<circle cx="261.75" cy="741.42" r="2.2" fill="none" stroke="#000" stroke-width="1.25"/>
<circle cx="239.85" cy="742.45" r="2.2" fill="none" stroke="#000" stroke-width="1.25"/>
<circle cx="271.24" cy="740.69" r="2.2" fill="none" stroke="#000" stroke-width="1.25"/>
<circle cx="242.04" cy="743.61" r="2.2" fill="none" stroke="#000" stroke-width="1.25"/>
<circle cx="252.99" cy="742.15" r="2.2" fill="none" stroke="#000" stroke-width="1.25"/>
<circle cx="257.37" cy="742.15" r="2.2" fill="none" stroke="#000" stroke-width="1.25"/>
<circle cx="268.32" cy="742.88" r="2.2" fill="none" stroke="#000" stroke-width="1.25"/>
<circle cx="246.42" cy="744.78" r="2.2" fill="none" stroke="#000" stroke-width="1.25"/>
<circle cx="250.8" cy="744.34" r="2.2" fill="none" stroke="#000" stroke-width="1.25"/>
<circle cx="259.56" cy="744.78" r="2.2" fill="none" stroke="#000" stroke-width="1.25"/>
<circle cx="263.94" cy="744.34" r="2.2" fill="none" stroke="#000" stroke-width="1.25"/>
<circle cx="248.61" cy="747.26" r="2.2" fill="none" stroke="#000" stroke-width="1.25"/>
<circle cx="255.33" cy="746.53" r="2.2" fill="none" stroke="#000" stroke-width="1.25"/>
<circle cx="261.75" cy="746.82" r="2.2" fill="none" stroke="#000" stroke-width="1.25"/>
<circle cx="252.99" cy="748.72" r="2.2" fill="none" stroke="#000" stroke-width="1.25"/>
<circle cx="257.37" cy="749.16" r="2.2" fill="none" stroke="#000" stroke-width="1.25"/>
<circle cx="255.33" cy="739.96" r="2.2" fill="none" stroke="#000" stroke-width="1.25"/>
<circle cx="251.53" cy="739.23" r="2.2" fill="none" stroke="#000" stroke-width="1.25"/>
<circle cx="259.56" cy="739.23" r="2.2" fill="none" stroke="#000" stroke-width="1.25"/>
<circle cx="255.33" cy="723.18" r="2.2" fill="none" stroke="#000" stroke-width="1.25"/>
<circle cx="306.28" cy="678.92" r="2.5" fill="#000"/>
<circle cx="310.93" cy="679.32" r="2.5" fill="#000"/>
<circle cx="308.54" cy="690.88" r="2.5" fill="#000"/>
<circle cx="310.93" cy="695.93" r="2.5" fill="#000"/>
<circle cx="306.28" cy="697.79" r="2.5" fill="#000"/>
<circle cx="310.93" cy="706.16" r="2.5" fill="#000"/>
<circle cx="306.54" cy="708.55" r="2.5" fill="#000"/>
<circle cx="315.18" cy="708.55" r="2.5" fill="#000"/>
<circle cx="301.89" cy="712.14" r="2.5" fill="#000"/>
<circle cx="310.93" cy="715.07" r="2.5" fill="#000"/>
<circle cx="304.29" cy="723.44" r="2.5" fill="#000"/>
<circle cx="308.54" cy="723.44" r="2.5" fill="#000"/>
<circle cx="312.92" cy="723.44" r="2.5" fill="#000"/>
<circle cx="315.18" cy="728.75" r="2.5" fill="#000"/>
<circle cx="297.64" cy="731.81" r="2.5" fill="#000"/>
<circle cx="301.89" cy="732.48" r="2.5" fill="#000"/>
<circle cx="306.28" cy="733.41" r="2.5" fill="#000"/>
<circle cx="319.83" cy="732.08" r="2.5" fill="#000"/>
<circle cx="293.26" cy="735.8" r="2.5" fill="#000"/>
<circle cx="315.18" cy="736.06" r="2.5" fill="#000"/>
<circle cx="324.22" cy="735.8" r="2.5" fill="#000"/>
<circle cx="301.89" cy="738.72" r="2.5" fill="#000"/>
<circle cx="306.28" cy="738.72" r="2.5" fill="#000"/>
<circle cx="293.26" cy="740.71" r="2.5" fill="#000"/>
<circle cx="297.64" cy="741.11" r="2.5" fill="#000"/>
<circle cx="319.83" cy="740.71" r="2.5" fill="#000"/>
<circle cx="310.93" cy="742.44" r="2.5" fill="#000"/>
<circle cx="315.18" cy="742.44" r="2.5" fill="#000"/>
<circle cx="301.89" cy="745.37" r="2.5" fill="#000"/>
<circle cx="310.93" cy="749.09" r="2.5" fill="#000"/>
<circle cx="306.54" cy="750.42" r="2.5" fill="#000"/>
</g>
<g id="panel-N">
<rect x="404" y="731.9" width="34.2" height="18.7" fill="#7f7f7f" stroke="#000" stroke-width="1.1"/>
<rect x="457.9" y="714.5" width="34.2" height="36.1" fill="#a1a1a1" stroke="#000" stroke-width="1.1"/>
<rect x="511.4" y="711.5" width="34.2" height="39.1" fill="#7f7f7f" stroke="#000" stroke-width="1.1"/>
<path d="M412.4 729.6H429.8M412.4 733.2H429.8M421.1 729.6V733.2" stroke="#000" stroke-width="0.7" fill="none"/>
<path d="M466.3 712.6H483.7M466.3 715.4H483.7M475 712.6V715.4" stroke="#000" stroke-width="0.7" fill="none"/>
<path d="M519.8 709H537.2M519.8 713H537.2M528.5 709V713" stroke="#000" stroke-width="0.7" fill="none"/>
<path d="M385.6 631.45V750.6" stroke="#000" stroke-width="1.15" fill="none"/>
<path d="M385.05 750.6H565" stroke="#000" stroke-width="1.15" fill="none"/>
<text x="379.6" y="753.8" font-size="9" text-anchor="end" font-weight="bold" font-style="normal">0</text>
<text x="379.6" y="724.15" font-size="9" text-anchor="end" font-weight="bold" font-style="normal">20</text>
<text x="379.6" y="694.5" font-size="9" text-anchor="end" font-weight="bold" font-style="normal">40</text>
<text x="379.6" y="664.85" font-size="9" text-anchor="end" font-weight="bold" font-style="normal">60</text>
<text x="379.6" y="635.2" font-size="9" text-anchor="end" font-weight="bold" font-style="normal">80</text>
<path d="M380.7 750.6H385.6M380.7 720.95H385.6M380.7 691.3H385.6M380.7 661.65H385.6M380.7 632H385.6M421.1 750.6V755.2M475 750.6V755.2M528.5 750.6V755.2" stroke="#000" stroke-width="1.15" fill="none"/>
<text x="420.9" y="765.1" font-size="9" text-anchor="middle" font-weight="bold" font-style="normal">Healthy</text>
<text x="474.8" y="765.1" font-size="9" text-anchor="middle" font-weight="bold" font-style="normal">DwoWS</text>
<text x="528.3" y="765.1" font-size="9" text-anchor="middle" font-weight="bold" font-style="normal">DwWS</text>
<text transform="translate(363.4 691) rotate(-90)" font-size="11.45" text-anchor="middle" font-weight="bold">Serum IL-6 (pg/mL)</text>
<text x="339.8" y="633.6" font-size="18.4" text-anchor="start" font-weight="bold" font-style="normal">N</text>
<text x="397.6" y="643.4" font-size="9.9" font-weight="bold">5<tspan font-size="7.1" dy="-4.1">th</tspan><tspan dy="4.1"> day</tspan></text>
<text x="397.6" y="654.5" font-size="9.9" text-anchor="start" font-weight="bold" font-style="normal">of fever</text>
<text x="398.4" y="680.3" font-size="9" font-weight="normal" font-style="italic" fill="#111" stroke="#111" stroke-width="0.15" style="white-space:pre">#,  &lt; 0.05</text>
<text x="398.4" y="690.3" font-size="9" font-weight="normal" font-style="italic" fill="#111" stroke="#111" stroke-width="0.15" style="white-space:pre">vs. healthy</text>
<text x="475" y="663.7" font-size="10.3" text-anchor="middle" font-weight="normal" font-style="normal" stroke="#000" stroke-width="0.15">#</text>
<text x="529" y="651.7" font-size="10.3" text-anchor="middle" font-weight="normal" font-style="normal" stroke="#000" stroke-width="0.15">#</text>
<rect x="419.21" y="702.46" width="4.5" height="4.5" fill="none" stroke="#000" stroke-width="1.2"/>
<rect x="419.21" y="708.3" width="4.5" height="4.5" fill="none" stroke="#000" stroke-width="1.2"/>
<rect x="419.21" y="716.03" width="4.5" height="4.5" fill="none" stroke="#000" stroke-width="1.2"/>
<rect x="412.35" y="721.87" width="4.5" height="4.5" fill="none" stroke="#000" stroke-width="1.2"/>
<rect x="421.11" y="722.9" width="4.5" height="4.5" fill="none" stroke="#000" stroke-width="1.2"/>
<rect x="426.22" y="724.06" width="4.5" height="4.5" fill="none" stroke="#000" stroke-width="1.2"/>
<rect x="416.73" y="725.82" width="4.5" height="4.5" fill="none" stroke="#000" stroke-width="1.2"/>
<rect x="421.11" y="726.98" width="4.5" height="4.5" fill="none" stroke="#000" stroke-width="1.2"/>
<rect x="403.59" y="732.53" width="4.5" height="4.5" fill="none" stroke="#000" stroke-width="1.2"/>
<rect x="407.97" y="732.09" width="4.5" height="4.5" fill="none" stroke="#000" stroke-width="1.2"/>
<rect x="412.35" y="731.36" width="4.5" height="4.5" fill="none" stroke="#000" stroke-width="1.2"/>
<rect x="416.73" y="732.82" width="4.5" height="4.5" fill="none" stroke="#000" stroke-width="1.2"/>
<rect x="421.11" y="731.36" width="4.5" height="4.5" fill="none" stroke="#000" stroke-width="1.2"/>
<rect x="426.22" y="732.53" width="4.5" height="4.5" fill="none" stroke="#000" stroke-width="1.2"/>
<rect x="430.6" y="732.82" width="4.5" height="4.5" fill="none" stroke="#000" stroke-width="1.2"/>
<rect x="434.98" y="734.28" width="4.5" height="4.5" fill="none" stroke="#000" stroke-width="1.2"/>
<rect x="403.59" y="735.74" width="4.5" height="4.5" fill="none" stroke="#000" stroke-width="1.2"/>
<rect x="412.35" y="735.74" width="4.5" height="4.5" fill="none" stroke="#000" stroke-width="1.2"/>
<rect x="421.11" y="737.93" width="4.5" height="4.5" fill="none" stroke="#000" stroke-width="1.2"/>
<rect x="426.22" y="736.47" width="4.5" height="4.5" fill="none" stroke="#000" stroke-width="1.2"/>
<rect x="412.35" y="740.85" width="4.5" height="4.5" fill="none" stroke="#000" stroke-width="1.2"/>
<rect x="416.73" y="735.74" width="4.5" height="4.5" fill="none" stroke="#000" stroke-width="1.2"/>
<rect x="430.6" y="735.01" width="4.5" height="4.5" fill="none" stroke="#000" stroke-width="1.2"/>
<circle cx="470.07" cy="675.66" r="2.2" fill="none" stroke="#000" stroke-width="1.25"/>
<circle cx="472.99" cy="676.39" r="2.2" fill="none" stroke="#000" stroke-width="1.25"/>
<circle cx="476.64" cy="675.22" r="2.2" fill="none" stroke="#000" stroke-width="1.25"/>
<circle cx="480" cy="675.66" r="2.2" fill="none" stroke="#000" stroke-width="1.25"/>
<circle cx="475.04" cy="698.14" r="2.2" fill="none" stroke="#000" stroke-width="1.25"/>
<circle cx="467.88" cy="704.42" r="2.2" fill="none" stroke="#000" stroke-width="1.25"/>
<circle cx="473.43" cy="705.88" r="2.2" fill="none" stroke="#000" stroke-width="1.25"/>
<circle cx="482.19" cy="708.8" r="2.2" fill="none" stroke="#000" stroke-width="1.25"/>
<circle cx="459.56" cy="712.01" r="2.2" fill="none" stroke="#000" stroke-width="1.25"/>
<circle cx="487.59" cy="711.72" r="2.2" fill="none" stroke="#000" stroke-width="1.25"/>
<circle cx="462.77" cy="713.91" r="2.2" fill="none" stroke="#000" stroke-width="1.25"/>
<circle cx="467.88" cy="713.18" r="2.2" fill="none" stroke="#000" stroke-width="1.25"/>
<circle cx="484.67" cy="713.91" r="2.2" fill="none" stroke="#000" stroke-width="1.25"/>
<circle cx="478.83" cy="714.64" r="2.2" fill="none" stroke="#000" stroke-width="1.25"/>
<circle cx="459.56" cy="716.82" r="2.2" fill="none" stroke="#000" stroke-width="1.25"/>
<circle cx="464.23" cy="716.09" r="2.2" fill="none" stroke="#000" stroke-width="1.25"/>
<circle cx="469.34" cy="716.82" r="2.2" fill="none" stroke="#000" stroke-width="1.25"/>
<circle cx="472.99" cy="716.09" r="2.2" fill="none" stroke="#000" stroke-width="1.25"/>
<circle cx="476.64" cy="716.39" r="2.2" fill="none" stroke="#000" stroke-width="1.25"/>
<circle cx="481.02" cy="716.82" r="2.2" fill="none" stroke="#000" stroke-width="1.25"/>
<circle cx="486.13" cy="716.82" r="2.2" fill="none" stroke="#000" stroke-width="1.25"/>
<circle cx="489.78" cy="716.39" r="2.2" fill="none" stroke="#000" stroke-width="1.25"/>
<circle cx="459.56" cy="721.2" r="2.2" fill="none" stroke="#000" stroke-width="1.25"/>
<circle cx="462.77" cy="719.74" r="2.2" fill="none" stroke="#000" stroke-width="1.25"/>
<circle cx="467.15" cy="720.18" r="2.2" fill="none" stroke="#000" stroke-width="1.25"/>
<circle cx="471.53" cy="719.74" r="2.2" fill="none" stroke="#000" stroke-width="1.25"/>
<circle cx="475.04" cy="720.47" r="2.2" fill="none" stroke="#000" stroke-width="1.25"/>
<circle cx="479.56" cy="719.74" r="2.2" fill="none" stroke="#000" stroke-width="1.25"/>
<circle cx="483.21" cy="720.18" r="2.2" fill="none" stroke="#000" stroke-width="1.25"/>
<circle cx="487.59" cy="720.47" r="2.2" fill="none" stroke="#000" stroke-width="1.25"/>
<circle cx="491.24" cy="719.74" r="2.2" fill="none" stroke="#000" stroke-width="1.25"/>
<circle cx="462.77" cy="723.39" r="2.2" fill="none" stroke="#000" stroke-width="1.25"/>
<circle cx="467.88" cy="724.12" r="2.2" fill="none" stroke="#000" stroke-width="1.25"/>
<circle cx="472.26" cy="723.39" r="2.2" fill="none" stroke="#000" stroke-width="1.25"/>
<circle cx="476.64" cy="723.69" r="2.2" fill="none" stroke="#000" stroke-width="1.25"/>
<circle cx="481.02" cy="723.39" r="2.2" fill="none" stroke="#000" stroke-width="1.25"/>
<circle cx="485.4" cy="723.69" r="2.2" fill="none" stroke="#000" stroke-width="1.25"/>
<circle cx="489.05" cy="722.66" r="2.2" fill="none" stroke="#000" stroke-width="1.25"/>
<circle cx="470.07" cy="726.31" r="2.2" fill="none" stroke="#000" stroke-width="1.25"/>
<circle cx="475.04" cy="725.58" r="2.2" fill="none" stroke="#000" stroke-width="1.25"/>
<circle cx="479.56" cy="726.31" r="2.2" fill="none" stroke="#000" stroke-width="1.25"/>
<circle cx="476.64" cy="728.94" r="2.2" fill="none" stroke="#000" stroke-width="1.25"/>
<circle cx="482.48" cy="727.77" r="2.2" fill="none" stroke="#000" stroke-width="1.25"/>
<circle cx="475.04" cy="732.88" r="2.2" fill="none" stroke="#000" stroke-width="1.25"/>
<circle cx="528.39" cy="661.79" r="2.5" fill="#000"/>
<circle cx="528.39" cy="687.04" r="2.5" fill="#000"/>
<circle cx="525.47" cy="692.45" r="2.5" fill="#000"/>
<circle cx="537.88" cy="695.8" r="2.5" fill="#000"/>
<circle cx="525.47" cy="698.72" r="2.5" fill="#000"/>
<circle cx="531.61" cy="699.74" r="2.5" fill="#000"/>
<circle cx="537.88" cy="701.93" r="2.5" fill="#000"/>
<circle cx="519.2" cy="703.39" r="2.5" fill="#000"/>
<circle cx="531.61" cy="704.56" r="2.5" fill="#000"/>
<circle cx="544.01" cy="704.56" r="2.5" fill="#000"/>
<circle cx="525.47" cy="707.04" r="2.5" fill="#000"/>
<circle cx="537.88" cy="707.48" r="2.5" fill="#000"/>
<circle cx="519.2" cy="709.23" r="2.5" fill="#000"/>
<circle cx="531.61" cy="709.96" r="2.5" fill="#000"/>
<circle cx="525.47" cy="713.91" r="2.5" fill="#000"/>
<circle cx="537.88" cy="712.88" r="2.5" fill="#000"/>
<circle cx="544.01" cy="715.36" r="2.5" fill="#000"/>
<circle cx="531.61" cy="716.53" r="2.5" fill="#000"/>
<circle cx="525.47" cy="719.74" r="2.5" fill="#000"/>
<circle cx="519.2" cy="720.62" r="2.5" fill="#000"/>
<circle cx="544.01" cy="720.18" r="2.5" fill="#000"/>
<circle cx="512.92" cy="722.66" r="2.5" fill="#000"/>
<circle cx="531.61" cy="722.08" r="2.5" fill="#000"/>
<circle cx="537.88" cy="722.08" r="2.5" fill="#000"/>
<circle cx="519.2" cy="725.58" r="2.5" fill="#000"/>
<circle cx="525.47" cy="729.38" r="2.5" fill="#000"/>
<circle cx="537.88" cy="731.57" r="2.5" fill="#000"/>
<circle cx="519.2" cy="733.32" r="2.5" fill="#000"/>
<circle cx="531.61" cy="733.03" r="2.5" fill="#000"/>
</g>
</svg></body></html>
